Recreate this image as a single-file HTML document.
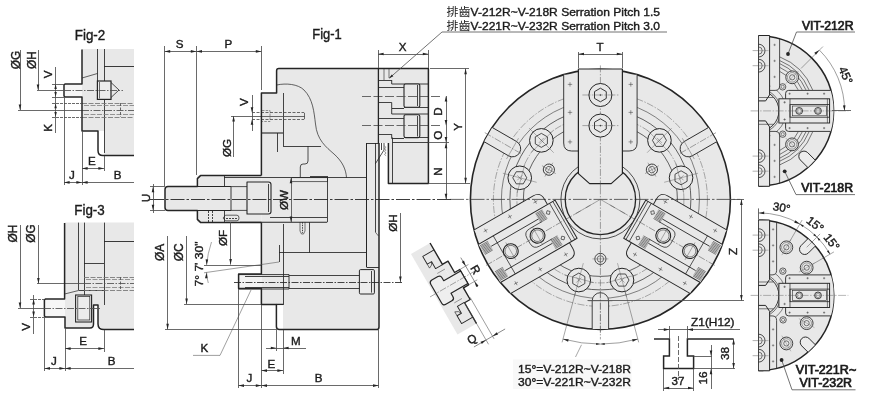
<!DOCTYPE html>
<html><head><meta charset="utf-8"><title>Chuck dimensions</title>
<style>
html,body{margin:0;padding:0;background:#fff}
svg{display:block;filter:grayscale(1)}
text{font-family:"Liberation Sans", "Noto Sans CJK TC", sans-serif;fill:#1f1a19;stroke:#1f1a19;stroke-width:0.4px}
</style></head>
<body>
<svg width="870" height="402" viewBox="0 0 870 402">
<rect width="870" height="402" fill="#fff"/>
<g id="fig2">
<path d="M82,49 H134 V155.6 H104 V131 H82 Z" fill="#e8e8e8" stroke="none"/>
<rect x="64" y="84" width="18" height="13" fill="#f6f6f6" stroke="none" stroke-width="0"/>
<line x1="97.5" y1="49" x2="97.5" y2="81" stroke="#2a2422" stroke-width="0.85"/>
<line x1="104.5" y1="49" x2="104.5" y2="81" stroke="#2a2422" stroke-width="0.85"/>
<line x1="104.5" y1="99.4" x2="104.5" y2="153" stroke="#2a2422" stroke-width="0.85"/>
<line x1="104" y1="66.5" x2="134" y2="66.5" stroke="#2a2422" stroke-width="0.9"/>
<line x1="82" y1="78" x2="97.4" y2="73.5" stroke="#2a2422" stroke-width="0.7"/>
<line x1="82" y1="103.5" x2="134" y2="103.5" stroke="#7d716c" stroke-width="0.85" stroke-dasharray="5 1.5"/>
<line x1="82" y1="117.5" x2="134" y2="117.5" stroke="#7d716c" stroke-width="0.85" stroke-dasharray="5 1.5"/>
<line x1="84" y1="105.5" x2="134" y2="105.5" stroke="#8d827d" stroke-width="0.85" stroke-dasharray="5 1.5"/>
<line x1="84" y1="114.5" x2="134" y2="114.5" stroke="#8d827d" stroke-width="0.85" stroke-dasharray="5 1.5"/>
<line x1="120.5" y1="103" x2="120.5" y2="117" stroke="#5a4d48" stroke-width="0.85" stroke-dasharray="3 1.5"/>
<line x1="18" y1="110.5" x2="82" y2="110.5" stroke="#5a4d48" stroke-width="0.85"/>
<line x1="82" y1="110.5" x2="134" y2="110.5" stroke="#5a4d48" stroke-width="0.85" stroke-dasharray="7 1.5 1.5 1.5"/>
<rect x="97.4" y="81" width="13.6" height="18.4" fill="#ececec" stroke="#2a2422" stroke-width="1.2"/>
<path d="M111,82.5 L119,90 L111,97.5" fill="none" stroke="#2a2422" stroke-width="0.8" stroke-linejoin="round"/>
<line x1="99.5" y1="82" x2="99.5" y2="98.5" stroke="#5a4d48" stroke-width="0.85"/>
<path d="M82,49.5 V84 H65 L64,85 V96 L65,97 H82 V131 H98 V150.5 Q98,155.6 103,155.6 H134" fill="none" stroke="#2a2422" stroke-width="1.5" stroke-linejoin="round"/>
<line x1="37" y1="90.5" x2="64" y2="90.5" stroke="#5a4d48" stroke-width="0.85"/>
<line x1="64" y1="90.5" x2="123" y2="90.5" stroke="#5a4d48" stroke-width="0.85" stroke-dasharray="7 1.5 1.5 1.5"/>
<line x1="20.5" y1="50" x2="20.5" y2="110" stroke="#5a4d48" stroke-width="0.85"/>
<polygon points="20,110 18.7,104.4 21.3,104.4" fill="#2a2422"/>
<line x1="38.5" y1="50" x2="38.5" y2="90" stroke="#5a4d48" stroke-width="0.85"/>
<polygon points="38,90 36.7,84.4 39.3,84.4" fill="#2a2422"/>
<text x="20.29" y="60" font-size="11.92" text-anchor="middle" transform="rotate(-90 20.29 60)">&#216;G</text>
<text x="35.79" y="60" font-size="11.92" text-anchor="middle" transform="rotate(-90 35.79 60)">&#216;H</text>
<line x1="55.5" y1="67" x2="55.5" y2="100" stroke="#5a4d48" stroke-width="0.85"/>
<polygon points="55.6,84 56.8,89 54.4,89" fill="#2a2422"/>
<polygon points="55.6,97 54.4,92 56.8,92" fill="#2a2422"/>
<line x1="52" y1="84.5" x2="64" y2="84.5" stroke="#5a4d48" stroke-width="0.85"/>
<line x1="52" y1="97.5" x2="64" y2="97.5" stroke="#5a4d48" stroke-width="0.85"/>
<text x="51.68" y="74.5" font-size="11.6" text-anchor="middle" transform="rotate(-90 51.68 74.5)">V</text>
<line x1="55.5" y1="100" x2="55.5" y2="133" stroke="#5a4d48" stroke-width="0.85"/>
<polygon points="55.6,103.2 56.8,108.2 54.4,108.2" fill="#2a2422"/>
<polygon points="55.6,117 54.4,112 56.8,112" fill="#2a2422"/>
<line x1="52" y1="103.5" x2="82" y2="103.5" stroke="#5a4d48" stroke-width="0.85" stroke-dasharray="3 1"/>
<line x1="52" y1="117.5" x2="82" y2="117.5" stroke="#5a4d48" stroke-width="0.85" stroke-dasharray="3 1"/>
<text x="51.68" y="128" font-size="11.6" text-anchor="middle" transform="rotate(-90 51.68 128)">K</text>
<line x1="64.5" y1="97" x2="64.5" y2="185" stroke="#5a4d48" stroke-width="0.85"/>
<line x1="82.5" y1="131" x2="82.5" y2="185" stroke="#5a4d48" stroke-width="0.85"/>
<line x1="104.5" y1="156" x2="104.5" y2="171" stroke="#5a4d48" stroke-width="0.85"/>
<line x1="82" y1="168.5" x2="104" y2="168.5" stroke="#5a4d48" stroke-width="0.85"/>
<polygon points="82,168.4 87.6,167.1 87.6,169.7" fill="#2a2422"/>
<polygon points="104,168.4 98.4,169.7 98.4,167.1" fill="#2a2422"/>
<text x="91.8" y="165" font-size="11.6" text-anchor="middle">E</text>
<line x1="64" y1="182.5" x2="134" y2="182.5" stroke="#5a4d48" stroke-width="0.85"/>
<polygon points="64,182.4 69.6,181.1 69.6,183.7" fill="#2a2422"/>
<polygon points="82,182.4 76.4,183.7 76.4,181.1" fill="#2a2422"/>
<polygon points="82,182.4 87.6,181.1 87.6,183.7" fill="#2a2422"/>
<text x="71.9" y="179" font-size="11.6" text-anchor="middle">J</text>
<text x="117.6" y="179" font-size="11.6" text-anchor="middle">B</text>
<text x="90" y="39.6" font-size="14.2" text-anchor="middle" textLength="30.5" lengthAdjust="spacingAndGlyphs">Fig-2</text>
</g>
<g id="fig3">
<path d="M64.6,222.6 H134 V329.6 H104 L98,326 V305 H93.5 V325 L91,328 H65 V317 H64.6 Z" fill="#e8e8e8" stroke="none"/>
<rect x="44.4" y="299" width="20.6" height="18" fill="#f6f6f6" stroke="none" stroke-width="0"/>
<line x1="78.5" y1="222.6" x2="78.5" y2="290" stroke="#2a2422" stroke-width="0.85"/>
<line x1="84.5" y1="222.6" x2="84.5" y2="295" stroke="#2a2422" stroke-width="0.85"/>
<line x1="104.5" y1="222.6" x2="104.5" y2="305" stroke="#2a2422" stroke-width="0.85"/>
<line x1="104" y1="241.5" x2="134" y2="241.5" stroke="#2a2422" stroke-width="0.9"/>
<line x1="84" y1="263.5" x2="104" y2="263.5" stroke="#2a2422" stroke-width="0.85"/>
<line x1="64.6" y1="294" x2="78.6" y2="290.5" stroke="#2a2422" stroke-width="0.7"/>
<line x1="78.6" y1="290.5" x2="104" y2="290.5" stroke="#2a2422" stroke-width="0.85"/>
<line x1="84" y1="277.5" x2="134" y2="277.5" stroke="#7d716c" stroke-width="0.85" stroke-dasharray="5 1.5"/>
<line x1="84" y1="290.5" x2="134" y2="290.5" stroke="#7d716c" stroke-width="0.85" stroke-dasharray="5 1.5"/>
<line x1="86" y1="279.5" x2="134" y2="279.5" stroke="#8d827d" stroke-width="0.85" stroke-dasharray="5 1.5"/>
<line x1="86" y1="287.5" x2="134" y2="287.5" stroke="#8d827d" stroke-width="0.85" stroke-dasharray="5 1.5"/>
<line x1="120.5" y1="277" x2="120.5" y2="290" stroke="#5a4d48" stroke-width="0.85" stroke-dasharray="3 1.5"/>
<line x1="37" y1="283.5" x2="84" y2="283.5" stroke="#5a4d48" stroke-width="0.85"/>
<line x1="84" y1="283.5" x2="134" y2="283.5" stroke="#5a4d48" stroke-width="0.85" stroke-dasharray="7 1.5 1.5 1.5"/>
<rect x="75.6" y="295" width="16" height="27" fill="#ececec" stroke="#2a2422" stroke-width="1.1"/>
<rect x="77.8" y="296.5" width="12" height="23.5" fill="none" stroke="#2a2422" stroke-width="0.7"/>
<path d="M64.6,223 V299 H45.4 L44.4,300 V316 L45.4,317 H65 V328 H90 Q93.5,328 93.5,324 V305 H98 V324 Q98,329.6 104,329.6 H134" fill="none" stroke="#2a2422" stroke-width="1.5" stroke-linejoin="round"/>
<line x1="18" y1="308.5" x2="44" y2="308.5" stroke="#5a4d48" stroke-width="0.85"/>
<line x1="44" y1="308.5" x2="100" y2="308.5" stroke="#5a4d48" stroke-width="0.85" stroke-dasharray="7 1.5 1.5 1.5"/>
<line x1="20.5" y1="225" x2="20.5" y2="308" stroke="#5a4d48" stroke-width="0.85"/>
<polygon points="20,308 18.7,302.4 21.3,302.4" fill="#2a2422"/>
<line x1="38.5" y1="225" x2="38.5" y2="283.6" stroke="#5a4d48" stroke-width="0.85"/>
<polygon points="38.4,283.6 37.1,278 39.7,278" fill="#2a2422"/>
<text x="17.09" y="233.5" font-size="11.92" text-anchor="middle" transform="rotate(-90 17.09 233.5)">&#216;H</text>
<text x="35.29" y="233.5" font-size="11.92" text-anchor="middle" transform="rotate(-90 35.29 233.5)">&#216;G</text>
<line x1="33.5" y1="295" x2="33.5" y2="334" stroke="#5a4d48" stroke-width="0.85"/>
<polygon points="33.6,299 34.9,304.6 32.3,304.6" fill="#2a2422"/>
<polygon points="33.6,317 32.3,311.4 34.9,311.4" fill="#2a2422"/>
<line x1="30" y1="299.5" x2="44" y2="299.5" stroke="#5a4d48" stroke-width="0.85" stroke-dasharray="3 1"/>
<line x1="30" y1="317.5" x2="44" y2="317.5" stroke="#5a4d48" stroke-width="0.85" stroke-dasharray="3 1"/>
<text x="29.68" y="327" font-size="11.6" text-anchor="middle" transform="rotate(-90 29.68 327)">V</text>
<line x1="44.5" y1="317" x2="44.5" y2="371" stroke="#5a4d48" stroke-width="0.85"/>
<line x1="65.5" y1="328" x2="65.5" y2="371" stroke="#5a4d48" stroke-width="0.85"/>
<line x1="104.5" y1="330" x2="104.5" y2="352" stroke="#5a4d48" stroke-width="0.85"/>
<line x1="65" y1="348.5" x2="104" y2="348.5" stroke="#5a4d48" stroke-width="0.85"/>
<polygon points="65,348.6 70.6,347.3 70.6,349.9" fill="#2a2422"/>
<polygon points="104,348.6 98.4,349.9 98.4,347.3" fill="#2a2422"/>
<text x="83" y="345" font-size="11.6" text-anchor="middle">E</text>
<line x1="44.4" y1="368.5" x2="134" y2="368.5" stroke="#5a4d48" stroke-width="0.85"/>
<polygon points="44.4,368.4 50,367.1 50,369.7" fill="#2a2422"/>
<polygon points="65,368.4 59.4,369.7 59.4,367.1" fill="#2a2422"/>
<polygon points="65,368.4 70.6,367.1 70.6,369.7" fill="#2a2422"/>
<text x="54" y="365" font-size="11.6" text-anchor="middle">J</text>
<text x="111.6" y="365" font-size="11.6" text-anchor="middle">B</text>
<text x="89.5" y="215.2" font-size="14.2" text-anchor="middle" textLength="30.5" lengthAdjust="spacingAndGlyphs">Fig-3</text>
</g>
<g id="fig1">
<path d="M261.4,93 H276.6 V68.6 H428.4 V183.4 H388 V143 H379 V329.6 H283 V304.4 H261.4 Z" fill="#e8e8e8" stroke="none"/>
<path d="M197.4,175.6 H261.4 V222.4 H197.4 Z" fill="#e8e8e8" stroke="none"/>
<path d="M165,186.6 H231 V210.4 H165 Z" fill="#e8e8e8" stroke="none"/>
<path d="M238.6,274 H262 V288.6 H238.6 Z" fill="#f2f2f2" stroke="none"/>
<line x1="283.5" y1="93" x2="283.5" y2="146" stroke="#2a2422" stroke-width="0.85"/>
<line x1="261.4" y1="133" x2="283" y2="133" stroke="#2a2422" stroke-width="1.1"/>
<line x1="277.5" y1="133" x2="277.5" y2="152" stroke="#2a2422" stroke-width="0.85"/>
<line x1="283" y1="146.5" x2="321" y2="146.5" stroke="#2a2422" stroke-width="0.85"/>
<path d="M308,146 V161 Q308,164 305,164 H303 Q300.3,164 300.3,167 V177" fill="none" stroke="#2a2422" stroke-width="0.8" stroke-linejoin="round"/>
<path d="M276.6,85 C286,83 298,84 304,90 C313,99 314,112 315.5,124 C317,140 326,147 334,154 C343,162 346,170 346.5,177.7" fill="none" stroke="#2a2422" stroke-width="0.7" stroke-linejoin="round"/>
<line x1="224" y1="177.5" x2="366.5" y2="177.5" stroke="#2a2422" stroke-width="0.85"/>
<rect x="291.6" y="177.7" width="36" height="4" fill="none" stroke="#2a2422" stroke-width="0.7"/>
<line x1="240" y1="222.2" x2="327" y2="222.2" stroke="#2a2422" stroke-width="1.1"/>
<line x1="270" y1="217.5" x2="327" y2="217.5" stroke="#2a2422" stroke-width="0.85"/>
<line x1="327.5" y1="176" x2="327.5" y2="222.2" stroke="#2a2422" stroke-width="0.85"/>
<line x1="310" y1="176.5" x2="327" y2="176.5" stroke="#2a2422" stroke-width="0.85"/>
<path d="M231,186.6 V210.4" fill="none" stroke="#2a2422" stroke-width="0.9" stroke-linejoin="round"/>
<path d="M231,186.6 H247 M231,210.4 H247" fill="none" stroke="#2a2422" stroke-width="0.8" stroke-linejoin="round"/>
<path d="M247,182 H268.5 Q271,182 271,184.5 V211.5 Q271,214 268.5,214 H247 Z" fill="#e8e8e8" stroke="#2a2422" stroke-width="1.1" stroke-linejoin="round"/>
<line x1="268.5" y1="184" x2="268.5" y2="212" stroke="#2a2422" stroke-width="0.85"/>
<line x1="224.5" y1="175.6" x2="224.5" y2="186.6" stroke="#2a2422" stroke-width="0.85"/>
<line x1="224.5" y1="210.4" x2="224.5" y2="222.4" stroke="#2a2422" stroke-width="0.85"/>
<line x1="208.5" y1="211" x2="208.5" y2="222" stroke="#2a2422" stroke-width="0.85" stroke-dasharray="2 1"/>
<line x1="212.5" y1="211" x2="212.5" y2="222" stroke="#2a2422" stroke-width="0.85" stroke-dasharray="2 1"/>
<path d="M223,218 L225.5,215.2 H237 Q239,215.2 239,218 Q239,220.8 237,220.8 H225.5 Z" fill="none" stroke="#2a2422" stroke-width="0.7" stroke-linejoin="round"/>
<line x1="226" y1="218.5" x2="237" y2="218.5" stroke="#2a2422" stroke-width="0.85" stroke-dasharray="2 1"/>
<line x1="252" y1="112.5" x2="304" y2="112.5" stroke="#5a4d48" stroke-width="0.85" stroke-dasharray="3 1.5"/>
<line x1="252" y1="119.5" x2="304" y2="119.5" stroke="#5a4d48" stroke-width="0.85" stroke-dasharray="3 1.5"/>
<line x1="304.5" y1="112.8" x2="304.5" y2="119.2" stroke="#5a4d48" stroke-width="0.85"/>
<path d="M262,110.5 H270 V121.5 H262" fill="none" stroke="#5a4d48" stroke-width="0.6" stroke-linejoin="round" stroke-dasharray="2.5 1.2"/>
<line x1="231" y1="116.5" x2="305" y2="116.5" stroke="#5a4d48" stroke-width="0.85"/>
<line x1="283.5" y1="224" x2="283.5" y2="305" stroke="#2a2422" stroke-width="0.85"/>
<line x1="283" y1="252.5" x2="366.5" y2="252.5" stroke="#2a2422" stroke-width="0.85"/>
<line x1="309.5" y1="222.2" x2="309.5" y2="252.6" stroke="#2a2422" stroke-width="0.85"/>
<path d="M300,222.2 V231 L301.5,234 H303.5 L305,231 V222.2" fill="none" stroke="#2a2422" stroke-width="0.6" stroke-linejoin="round"/>
<line x1="302.5" y1="222.2" x2="302.5" y2="233" stroke="#2a2422" stroke-width="0.85" stroke-dasharray="1.5 1"/>
<path d="M238.6,274.6 H289 V289 H238.6" fill="none" stroke="#2a2422" stroke-width="0.9" stroke-linejoin="round"/>
<line x1="245" y1="276.5" x2="289" y2="276.5" stroke="#2a2422" stroke-width="0.85"/>
<line x1="245" y1="287.5" x2="289" y2="287.5" stroke="#2a2422" stroke-width="0.85"/>
<line x1="289" y1="275.5" x2="359.4" y2="275.5" stroke="#2a2422" stroke-width="0.85"/>
<line x1="289" y1="288.5" x2="359.4" y2="288.5" stroke="#2a2422" stroke-width="0.85"/>
<rect x="359.4" y="269.6" width="15" height="24.4" fill="#ececec" stroke="#2a2422" stroke-width="1" rx="1.2"/>
<line x1="371.5" y1="271" x2="371.5" y2="292.6" stroke="#2a2422" stroke-width="0.85"/>
<line x1="234" y1="282.5" x2="403" y2="282.5" stroke="#2a2422" stroke-width="0.85" stroke-dasharray="7 1.5 1.5 1.5"/>
<line x1="366.5" y1="143" x2="366.5" y2="267" stroke="#2a2422" stroke-width="1"/>
<line x1="375.5" y1="143" x2="375.5" y2="232" stroke="#2a2422" stroke-width="0.85"/>
<line x1="375.2" y1="232" x2="378.5" y2="236" stroke="#2a2422" stroke-width="0.6"/>
<line x1="366.5" y1="143.5" x2="379" y2="143.5" stroke="#2a2422" stroke-width="0.9"/>
<line x1="366.5" y1="267.5" x2="379" y2="267.5" stroke="#2a2422" stroke-width="0.9"/>
<path d="M375.2,164 L384,150 V143" fill="none" stroke="#2a2422" stroke-width="0.8" stroke-linejoin="round"/>
<path d="M384.5,146 l1.6,1.4 l-1.6,1.4 l1.6,1.4 l-1.6,1.4 l1.6,1.4 l-1.6,1.4 l1.6,1.4" fill="none" stroke="#2a2422" stroke-width="0.45" stroke-linejoin="round"/>
<line x1="381.5" y1="143" x2="381.5" y2="150" stroke="#2a2422" stroke-width="0.85"/>
<line x1="392.5" y1="137.5" x2="392.5" y2="183" stroke="#2a2422" stroke-width="0.85"/>
<line x1="392.4" y1="142.5" x2="428.4" y2="142.5" stroke="#2a2422" stroke-width="0.85"/>
<line x1="379" y1="80.5" x2="391.7" y2="80.5" stroke="#2a2422" stroke-width="0.85"/>
<line x1="379" y1="87.5" x2="404" y2="87.5" stroke="#2a2422" stroke-width="0.85"/>
<line x1="379" y1="102.5" x2="391.7" y2="102.5" stroke="#2a2422" stroke-width="0.85"/>
<line x1="379" y1="118.5" x2="404" y2="118.5" stroke="#2a2422" stroke-width="0.85"/>
<line x1="379" y1="134.5" x2="391.7" y2="134.5" stroke="#2a2422" stroke-width="0.85"/>
<path d="M384,69 V80 M389,69 V78" fill="none" stroke="#2a2422" stroke-width="0.6" stroke-linejoin="round"/>
<path d="M391.7,80 V84 H428 M391.7,102.5 V108.5 H404 M391.7,108.5 V114 H428 M391.7,134.2 V138.5 H404" fill="none" stroke="#2a2422" stroke-width="0.9" stroke-linejoin="round"/>
<line x1="404" y1="107.5" x2="428" y2="107.5" stroke="#2a2422" stroke-width="0.85"/>
<line x1="404" y1="137.5" x2="428" y2="137.5" stroke="#2a2422" stroke-width="0.85"/>
<rect x="404" y="84" width="15.8" height="23.2" fill="#e8e8e8" stroke="#2a2422" stroke-width="1.1" rx="1.5"/>
<rect x="404" y="114.8" width="15.8" height="22.8" fill="#e8e8e8" stroke="#2a2422" stroke-width="1.1" rx="1.5"/>
<line x1="417.5" y1="85" x2="417.5" y2="106" stroke="#2a2422" stroke-width="0.85"/>
<line x1="417.5" y1="116" x2="417.5" y2="136.5" stroke="#2a2422" stroke-width="0.85"/>
<line x1="362" y1="96.5" x2="440" y2="96.5" stroke="#5a4d48" stroke-width="0.85" stroke-dasharray="9 2.5"/>
<line x1="362" y1="125.5" x2="440" y2="125.5" stroke="#5a4d48" stroke-width="0.85" stroke-dasharray="9 2.5"/>
<path d="M261.4,175.6 V93 H276.6 V70.8 Q276.6,68.6 278.8,68.6 H428.4 V183.4 H388.4 V143" fill="none" stroke="#2a2422" stroke-width="1.5" stroke-linejoin="round"/>
<line x1="378.4" y1="68.6" x2="378.4" y2="143" stroke="#2a2422" stroke-width="1.3"/>
<path d="M379,143 V327 Q379,329.6 376.4,329.6 H279.4 Q276.4,329.6 276.4,326.6 V304.4 H261.4 V288.6 H238.6 V274 H261.4 V222.4" fill="none" stroke="#2a2422" stroke-width="1.5" stroke-linejoin="round"/>
<line x1="276.4" y1="304.4" x2="283" y2="304.4" stroke="#2a2422" stroke-width="1.3"/>
<path d="M261.4,175.6 H200.5 L197.4,178.6 V186.6 H168 Q165,186.6 165,189.6 V207.4 Q165,210.4 168,210.4 H197.4 V219.4 L200.5,222.4 H261.4" fill="none" stroke="#2a2422" stroke-width="1.5" stroke-linejoin="round"/>
<line x1="197.4" y1="186.5" x2="231" y2="186.5" stroke="#2a2422" stroke-width="1"/>
<line x1="197.4" y1="210.5" x2="231" y2="210.5" stroke="#2a2422" stroke-width="1"/>
<line x1="150" y1="199.5" x2="452" y2="199.5" stroke="#2a2422" stroke-width="0.9" stroke-dasharray="14 2 2.5 2"/>
<line x1="164.5" y1="46" x2="164.5" y2="186" stroke="#5a4d48" stroke-width="0.85"/>
<line x1="196.5" y1="46" x2="196.5" y2="175" stroke="#5a4d48" stroke-width="0.85"/>
<line x1="261.5" y1="46" x2="261.5" y2="90" stroke="#5a4d48" stroke-width="0.85"/>
<line x1="164.6" y1="51.5" x2="196.4" y2="51.5" stroke="#5a4d48" stroke-width="0.85"/>
<polygon points="164.6,51.4 170.2,50.1 170.2,52.7" fill="#2a2422"/>
<polygon points="196.4,51.4 190.8,52.7 190.8,50.1" fill="#2a2422"/>
<line x1="196.4" y1="51.5" x2="261.4" y2="51.5" stroke="#5a4d48" stroke-width="0.85"/>
<polygon points="196.4,51.4 202,50.1 202,52.7" fill="#2a2422"/>
<polygon points="261.4,51.4 255.8,52.7 255.8,50.1" fill="#2a2422"/>
<text x="179.6" y="47.5" font-size="11.6" text-anchor="middle">S</text>
<text x="228.4" y="47.5" font-size="11.6" text-anchor="middle">P</text>
<line x1="378.5" y1="50" x2="378.5" y2="68" stroke="#5a4d48" stroke-width="0.85"/>
<line x1="428.5" y1="50" x2="428.5" y2="68" stroke="#5a4d48" stroke-width="0.85"/>
<line x1="378" y1="54.5" x2="428.4" y2="54.5" stroke="#5a4d48" stroke-width="0.85"/>
<polygon points="378,54 383.6,52.7 383.6,55.3" fill="#2a2422"/>
<polygon points="428.4,54 422.8,55.3 422.8,52.7" fill="#2a2422"/>
<text x="402.6" y="50.5" font-size="11.6" text-anchor="middle">X</text>
<line x1="252.5" y1="95" x2="252.5" y2="131" stroke="#5a4d48" stroke-width="0.85"/>
<polygon points="252,112.8 250.7,107.2 253.3,107.2" fill="#2a2422"/>
<polygon points="252,119.2 253.3,124.8 250.7,124.8" fill="#2a2422"/>
<text x="247.58" y="102" font-size="11.6" text-anchor="middle" transform="rotate(-90 247.58 102)">V</text>
<line x1="233.5" y1="116" x2="233.5" y2="157" stroke="#5a4d48" stroke-width="0.85"/>
<polygon points="233.6,116 234.9,121.6 232.3,121.6" fill="#2a2422"/>
<text x="231.18" y="148" font-size="11.6" text-anchor="middle" transform="rotate(-90 231.18 148)">&#216;G</text>
<line x1="153.5" y1="184" x2="153.5" y2="213" stroke="#5a4d48" stroke-width="0.85"/>
<polygon points="153,186.6 154.3,192.2 151.7,192.2" fill="#2a2422"/>
<polygon points="153,210.4 151.7,204.8 154.3,204.8" fill="#2a2422"/>
<line x1="150" y1="186.5" x2="165" y2="186.5" stroke="#5a4d48" stroke-width="0.85"/>
<line x1="150" y1="210.5" x2="165" y2="210.5" stroke="#5a4d48" stroke-width="0.85"/>
<text x="149.58" y="198" font-size="11.6" text-anchor="middle" transform="rotate(-90 149.58 198)">U</text>
<line x1="291.5" y1="177.7" x2="291.5" y2="222" stroke="#5a4d48" stroke-width="0.85"/>
<polygon points="291,177.7 292.3,183.3 289.7,183.3" fill="#2a2422"/>
<polygon points="291,222.2 289.7,216.6 292.3,216.6" fill="#2a2422"/>
<text x="287.98" y="200" font-size="11.6" text-anchor="middle" transform="rotate(-90 287.98 200)">&#216;W</text>
<line x1="167.5" y1="236" x2="167.5" y2="329.4" stroke="#5a4d48" stroke-width="0.85"/>
<polygon points="167.6,329.4 166.3,323.8 168.9,323.8" fill="#2a2422"/>
<line x1="165" y1="329.5" x2="278" y2="329.5" stroke="#5a4d48" stroke-width="0.85"/>
<text x="164.09" y="252.4" font-size="11.92" text-anchor="middle" transform="rotate(-90 164.09 252.4)">&#216;A</text>
<line x1="186.5" y1="236" x2="186.5" y2="304" stroke="#5a4d48" stroke-width="0.85"/>
<polygon points="186.6,304 185.3,298.4 187.9,298.4" fill="#2a2422"/>
<line x1="184" y1="304.5" x2="261" y2="304.5" stroke="#5a4d48" stroke-width="0.85"/>
<text x="182.89" y="252.4" font-size="11.92" text-anchor="middle" transform="rotate(-90 182.89 252.4)">&#216;C</text>
<text x="202.8" y="264" font-size="10.55" text-anchor="middle" transform="rotate(-90 202.8 264)" textLength="45" lengthAdjust="spacingAndGlyphs">7&#176; 7' 30"</text>
<line x1="230.5" y1="222" x2="230.5" y2="264.6" stroke="#5a4d48" stroke-width="0.85"/>
<polygon points="230.6,264.6 229.3,259 231.9,259" fill="#2a2422"/>
<text x="227.18" y="238" font-size="11.6" text-anchor="middle" transform="rotate(-90 227.18 238)">&#216;F</text>
<line x1="204" y1="265.5" x2="261" y2="265.5" stroke="#5a4d48" stroke-width="0.85"/>
<line x1="204" y1="272.8" x2="279" y2="262" stroke="#5a4d48" stroke-width="0.55"/>
<line x1="279.5" y1="245" x2="279.5" y2="262" stroke="#2a2422" stroke-width="0.85"/>
<line x1="279" y1="252.5" x2="283" y2="252.5" stroke="#2a2422" stroke-width="0.85"/>
<path d="M211.5,242 Q207.5,254 206.6,265" fill="none" stroke="#5a4d48" stroke-width="0.5" stroke-linejoin="round"/>
<polygon points="206.6,265 205.59,259.34 208.19,259.48" fill="#2a2422"/>
<path d="M206.6,272.4 Q206.8,278 208.3,283" fill="none" stroke="#5a4d48" stroke-width="0.5" stroke-linejoin="round"/>
<polygon points="206.5,272.6 207.6,278.24 205.01,278.15" fill="#2a2422"/>
<line x1="400.5" y1="213" x2="400.5" y2="282" stroke="#5a4d48" stroke-width="0.85"/>
<polygon points="400.4,282 399.1,276.4 401.7,276.4" fill="#2a2422"/>
<text x="396.78" y="223" font-size="11.6" text-anchor="middle" transform="rotate(-90 396.78 223)">&#216;H</text>
<path d="M251,290 L220,355.4 H193" fill="none" stroke="#5a4d48" stroke-width="0.55" stroke-linejoin="round"/>
<text x="204.4" y="351.5" font-size="11.6" text-anchor="middle">K</text>
<line x1="238.5" y1="289" x2="238.5" y2="388" stroke="#5a4d48" stroke-width="0.85"/>
<line x1="261.5" y1="305" x2="261.5" y2="388" stroke="#5a4d48" stroke-width="0.85"/>
<line x1="276.5" y1="330" x2="276.5" y2="351" stroke="#5a4d48" stroke-width="0.85"/>
<line x1="283.5" y1="330" x2="283.5" y2="374" stroke="#5a4d48" stroke-width="0.85"/>
<line x1="378.5" y1="330" x2="378.5" y2="388" stroke="#5a4d48" stroke-width="0.85"/>
<line x1="266" y1="348.5" x2="306" y2="348.5" stroke="#5a4d48" stroke-width="0.85"/>
<polygon points="276.4,348 270.8,349.3 270.8,346.7" fill="#2a2422"/>
<polygon points="283,348 288.6,346.7 288.6,349.3" fill="#2a2422"/>
<text x="295.8" y="345" font-size="11.6" text-anchor="middle">M</text>
<line x1="261.4" y1="370.5" x2="283" y2="370.5" stroke="#5a4d48" stroke-width="0.85"/>
<polygon points="261.4,370.6 267,369.3 267,371.9" fill="#2a2422"/>
<polygon points="283,370.6 277.4,371.9 277.4,369.3" fill="#2a2422"/>
<text x="271.4" y="367.5" font-size="11.6" text-anchor="middle">E</text>
<line x1="238.4" y1="385.5" x2="378.6" y2="385.5" stroke="#5a4d48" stroke-width="0.85"/>
<polygon points="238.4,385.6 244,384.3 244,386.9" fill="#2a2422"/>
<polygon points="261.4,385.6 255.8,386.9 255.8,384.3" fill="#2a2422"/>
<polygon points="261.4,385.6 267,384.3 267,386.9" fill="#2a2422"/>
<polygon points="378.6,385.6 373,386.9 373,384.3" fill="#2a2422"/>
<text x="249.4" y="382" font-size="11.6" text-anchor="middle">J</text>
<text x="318.6" y="382" font-size="11.6" text-anchor="middle">B</text>
<line x1="446.5" y1="96" x2="446.5" y2="199.3" stroke="#5a4d48" stroke-width="0.85"/>
<polygon points="446,96 447.3,101.6 444.7,101.6" fill="#2a2422"/>
<polygon points="446,125.6 444.7,120 447.3,120" fill="#2a2422"/>
<polygon points="446,142.6 444.7,137 447.3,137" fill="#2a2422"/>
<polygon points="446,142.6 447.3,148.2 444.7,148.2" fill="#2a2422"/>
<polygon points="446,199.3 444.7,193.7 447.3,193.7" fill="#2a2422"/>
<line x1="428.4" y1="142.5" x2="449" y2="142.5" stroke="#5a4d48" stroke-width="0.85"/>
<text x="441.78" y="111.6" font-size="11.6" text-anchor="middle" transform="rotate(-90 441.78 111.6)">D</text>
<text x="441.78" y="135.2" font-size="11.6" text-anchor="middle" transform="rotate(-90 441.78 135.2)">O</text>
<text x="441.78" y="171.6" font-size="11.6" text-anchor="middle" transform="rotate(-90 441.78 171.6)">N</text>
<line x1="430" y1="68.5" x2="469" y2="68.5" stroke="#5a4d48" stroke-width="0.85"/>
<line x1="428.4" y1="183.5" x2="470" y2="183.5" stroke="#5a4d48" stroke-width="0.85"/>
<line x1="465.5" y1="68.6" x2="465.5" y2="183.4" stroke="#5a4d48" stroke-width="0.85"/>
<polygon points="465.6,68.6 466.9,74.2 464.3,74.2" fill="#2a2422"/>
<polygon points="465.6,183.4 464.3,177.8 466.9,177.8" fill="#2a2422"/>
<text x="462.18" y="127" font-size="11.6" text-anchor="middle" transform="rotate(-90 462.18 127)">Y</text>
<text x="327" y="39" font-size="14.2" text-anchor="middle" textLength="29.5" lengthAdjust="spacingAndGlyphs">Fig-1</text>
<text x="446.6" y="16.2" font-size="11.82" text-anchor="start" textLength="213.4" lengthAdjust="spacingAndGlyphs"><tspan stroke="none">&#25490;&#40786;</tspan>V-212R~V-218R Serration Pitch 1.5</text>
<text x="446.6" y="30.2" font-size="11.82" text-anchor="start" textLength="213.4" lengthAdjust="spacingAndGlyphs"><tspan stroke="none">&#25490;&#40786;</tspan>V-221R~V-232R Serration Pitch 3.0</text>
<path d="M667,32 H442 L389.5,78" fill="none" stroke="#5a4d48" stroke-width="0.8" stroke-linejoin="round"/>
<polygon points="388.8,78.6 391.79,74.41 393.36,76.23" fill="#2a2422"/>
</g>
<g id="inset" transform="translate(411,254) rotate(60)">
<path d="M0,0 H93 V-22 H0 Z" fill="#e8e8e8" stroke="none"/>
<path d="M8,-22 V-9 H17 V-14 H25 V-22" fill="none" stroke="#2a2422" stroke-width="0.9" stroke-linejoin="round"/>
<path d="M17,-14 Q20.5,-13 21.5,-9 M17,-9 H21.5" fill="none" stroke="#2a2422" stroke-width="0.6" stroke-linejoin="round"/>
<path d="M68.5,-22 V-14 H76.5 V-9 H85.5 V-22" fill="none" stroke="#2a2422" stroke-width="0.9" stroke-linejoin="round"/>
<path d="M76.5,-14 Q73,-13 72,-9 M76.5,-9 H72" fill="none" stroke="#2a2422" stroke-width="0.6" stroke-linejoin="round"/>
<line x1="30" y1="-22" x2="30" y2="-13" stroke="#5a4d48" stroke-width="0.5"/>
<line x1="64" y1="-22" x2="64" y2="-13" stroke="#5a4d48" stroke-width="0.5"/>
<path d="M0,-22 H24.7 V-28.5 H37.8 V-34.5 H55.5 V-28.5 H69 V-22 H93" fill="#e8e8e8" stroke="#2a2422" stroke-width="1.4" stroke-linejoin="round"/>
<path d="M36,-2 Q33,-2 33,-5 V-12 Q33,-15 36,-15 H39.5 V-34.5 H54 V-15 H58 Q61,-15 61,-12 V-5 Q61,-2 58,-2 Z" fill="#eeeeee" stroke="#2a2422" stroke-width="1.2" stroke-linejoin="round"/>
<line x1="46.7" y1="5" x2="46.7" y2="-47" stroke="#5a4d48" stroke-width="0.45" stroke-dasharray="7 1.5 1.5 1.5"/>
<line x1="37.8" y1="-35" x2="37.8" y2="-44.5" stroke="#5a4d48" stroke-width="0.5"/>
<line x1="55.5" y1="-35" x2="55.5" y2="-44.5" stroke="#5a4d48" stroke-width="0.5"/>
<line x1="28" y1="-41.3" x2="62" y2="-41.3" stroke="#5a4d48" stroke-width="0.6"/>
<polygon points="37.8,-41.3 32.2,-40 32.2,-42.6" fill="#2a2422"/>
<polygon points="55.5,-41.3 61.1,-42.6 61.1,-40" fill="#2a2422"/>
<line x1="70" y1="-22" x2="117" y2="-22" stroke="#5a4d48" stroke-width="0.5"/>
<line x1="67" y1="-29.5" x2="115" y2="-29.5" stroke="#5a4d48" stroke-width="0.5"/>
<line x1="112" y1="-8" x2="112" y2="-44" stroke="#5a4d48" stroke-width="0.6"/>
<polygon points="112,-22 113.3,-16.4 110.7,-16.4" fill="#2a2422"/>
<polygon points="112,-29.5 110.7,-35.1 113.3,-35.1" fill="#2a2422"/>
</g>
<text x="472.1" y="271.6" font-size="11.6" text-anchor="middle" transform="rotate(60 472.1 271.6)">R</text>
<text x="474" y="342.4" font-size="11.6" text-anchor="middle" transform="rotate(-30 474 342.4)">Q</text>
<g id="z1">
<path d="M654,339 H669.4 V356 H663.6 V368.6 H693.6 V356 H687.4 V339 H733.6" fill="none" stroke="#2a2422" stroke-width="1.5" stroke-linejoin="miter"/>
<line x1="678.5" y1="336" x2="678.5" y2="380" stroke="#5a4d48" stroke-width="0.85" stroke-dasharray="5 2"/>
<line x1="669.5" y1="326" x2="669.5" y2="339" stroke="#5a4d48" stroke-width="0.85"/>
<line x1="687.5" y1="326" x2="687.5" y2="339" stroke="#5a4d48" stroke-width="0.85"/>
<line x1="658" y1="329.5" x2="740" y2="329.5" stroke="#5a4d48" stroke-width="0.85"/>
<polygon points="669.4,329.6 663.8,330.9 663.8,328.3" fill="#2a2422"/>
<polygon points="687.4,329.6 693,328.3 693,330.9" fill="#2a2422"/>
<text x="712.8" y="326" font-size="11.6" text-anchor="middle" textLength="43.5" lengthAdjust="spacingAndGlyphs">Z1(H12)</text>
<line x1="663.5" y1="369" x2="663.5" y2="391" stroke="#5a4d48" stroke-width="0.85"/>
<line x1="693.5" y1="369" x2="693.5" y2="391" stroke="#5a4d48" stroke-width="0.85"/>
<line x1="663.6" y1="388.5" x2="693.6" y2="388.5" stroke="#5a4d48" stroke-width="0.85"/>
<polygon points="663.6,388 669.2,386.7 669.2,389.3" fill="#2a2422"/>
<polygon points="693.6,388 688,389.3 688,386.7" fill="#2a2422"/>
<text x="678" y="385" font-size="11.6" text-anchor="middle">37</text>
<line x1="693.6" y1="368.5" x2="735" y2="368.5" stroke="#5a4d48" stroke-width="0.85"/>
<line x1="733.5" y1="339" x2="733.5" y2="368.6" stroke="#5a4d48" stroke-width="0.85"/>
<polygon points="733.6,339 734.9,344.6 732.3,344.6" fill="#2a2422"/>
<polygon points="733.6,368.6 732.3,363 734.9,363" fill="#2a2422"/>
<text x="729.18" y="353.5" font-size="11.6" text-anchor="middle" transform="rotate(-90 729.18 353.5)">38</text>
<line x1="693.6" y1="356.5" x2="712" y2="356.5" stroke="#5a4d48" stroke-width="0.85"/>
<line x1="711.5" y1="345" x2="711.5" y2="389" stroke="#5a4d48" stroke-width="0.85"/>
<polygon points="711,356 709.7,350.4 712.3,350.4" fill="#2a2422"/>
<polygon points="711,368.6 712.3,374.2 709.7,374.2" fill="#2a2422"/>
<text x="707.18" y="378" font-size="11.6" text-anchor="middle" transform="rotate(-90 707.18 378)">16</text>
</g>
<g id="front" transform="translate(600.4,199.4)">
<circle cx="0" cy="0" r="130" fill="#e8e8e8" stroke="#2a2422" stroke-width="1.6"/>
<circle cx="0" cy="0" r="99" fill="none" stroke="#2a2422" stroke-width="0.55"/>
<circle cx="0" cy="0" r="107" fill="none" stroke="#5a4d48" stroke-width="0.45" stroke-dasharray="7 1.5 1.5 1.5"/>
<circle cx="0" cy="0" r="77" fill="none" stroke="#2a2422" stroke-width="0.7"/>
<circle cx="0" cy="0" r="90.5" fill="none" stroke="#2a2422" stroke-width="0.7"/>
<circle cx="0" cy="0" r="83.5" fill="none" stroke="#5a4d48" stroke-width="0.45" stroke-dasharray="7 1.5 1.5 1.5"/>
<circle cx="0" cy="0" r="39.5" fill="none" stroke="#2a2422" stroke-width="0.8"/>
<circle cx="0" cy="0" r="35.2" fill="#e8e8e8" stroke="#2a2422" stroke-width="1.3"/>
<g transform="rotate(60)">
<path d="M-8.2,-129.6 V-101.5 A8.2,8.2 0 0 0 8.2,-101.5 V-129.6" fill="#e8e8e8" stroke="#2a2422" stroke-width="0.85" stroke-linejoin="round"/>
<line x1="0" y1="-92" x2="0" y2="-134" stroke="#5a4d48" stroke-width="0.45" stroke-dasharray="7 1.5 1.5 1.5"/>
<line x1="-12" y1="-101.5" x2="12" y2="-101.5" stroke="#5a4d48" stroke-width="0.4"/>
<circle cx="0" cy="-59.5" r="5.6" fill="#e8e8e8" stroke="#2a2422" stroke-width="0.8"/>
<circle cx="0" cy="-59.5" r="3.2" fill="none" stroke="#2a2422" stroke-width="0.6"/>
<line x1="-8" y1="-59.5" x2="8" y2="-59.5" stroke="#5a4d48" stroke-width="0.4"/>
<line x1="0" y1="-67.5" x2="0" y2="-51.5" stroke="#5a4d48" stroke-width="0.4"/>
</g>
<circle cx="59.04" cy="-59.04" r="11.8" fill="#e8e8e8" stroke="#2a2422" stroke-width="1"/>
<polygon points="62.54,-52.98 55.54,-52.98 52.04,-59.04 55.54,-65.11 62.54,-65.11 66.04,-59.04" fill="none" stroke="#2a2422" stroke-width="0.8"/>
<line x1="56.54" y1="-61.54" x2="61.54" y2="-56.54" stroke="#2a2422" stroke-width="0.35"/>
<line x1="56.54" y1="-56.54" x2="61.54" y2="-61.54" stroke="#2a2422" stroke-width="0.35"/>
<line x1="46.67" y1="-46.67" x2="71.42" y2="-71.42" stroke="#5a4d48" stroke-width="0.4"/>
<line x1="47.29" y1="-68.81" x2="68.81" y2="-47.29" stroke="#5a4d48" stroke-width="0.4"/>
<circle cx="80.65" cy="-21.61" r="11.8" fill="#e8e8e8" stroke="#2a2422" stroke-width="1"/>
<polygon points="80.65,-14.61 74.59,-18.11 74.59,-25.11 80.65,-28.61 86.72,-25.11 86.72,-18.11" fill="none" stroke="#2a2422" stroke-width="0.8"/>
<line x1="78.15" y1="-24.11" x2="83.15" y2="-19.11" stroke="#2a2422" stroke-width="0.35"/>
<line x1="78.15" y1="-19.11" x2="83.15" y2="-24.11" stroke="#2a2422" stroke-width="0.35"/>
<line x1="63.75" y1="-17.08" x2="97.56" y2="-26.14" stroke="#5a4d48" stroke-width="0.4"/>
<line x1="75.37" y1="-35.95" x2="83.24" y2="-6.55" stroke="#5a4d48" stroke-width="0.4"/>
<g transform="rotate(180)">
<path d="M-8.2,-129.6 V-101.5 A8.2,8.2 0 0 0 8.2,-101.5 V-129.6" fill="#e8e8e8" stroke="#2a2422" stroke-width="0.85" stroke-linejoin="round"/>
<line x1="0" y1="-92" x2="0" y2="-134" stroke="#5a4d48" stroke-width="0.45" stroke-dasharray="7 1.5 1.5 1.5"/>
<line x1="-12" y1="-101.5" x2="12" y2="-101.5" stroke="#5a4d48" stroke-width="0.4"/>
<circle cx="0" cy="-59.5" r="5.6" fill="#e8e8e8" stroke="#2a2422" stroke-width="0.8"/>
<circle cx="0" cy="-59.5" r="3.2" fill="none" stroke="#2a2422" stroke-width="0.6"/>
<line x1="-8" y1="-59.5" x2="8" y2="-59.5" stroke="#5a4d48" stroke-width="0.4"/>
<line x1="0" y1="-67.5" x2="0" y2="-51.5" stroke="#5a4d48" stroke-width="0.4"/>
</g>
<circle cx="21.61" cy="80.65" r="11.8" fill="#e8e8e8" stroke="#2a2422" stroke-width="1"/>
<polygon points="14.61,80.65 18.11,74.59 25.11,74.59 28.61,80.65 25.11,86.72 18.11,86.72" fill="none" stroke="#2a2422" stroke-width="0.8"/>
<line x1="19.11" y1="78.15" x2="24.11" y2="83.15" stroke="#2a2422" stroke-width="0.35"/>
<line x1="19.11" y1="83.15" x2="24.11" y2="78.15" stroke="#2a2422" stroke-width="0.35"/>
<line x1="17.08" y1="63.75" x2="26.14" y2="97.56" stroke="#5a4d48" stroke-width="0.4"/>
<line x1="35.95" y1="75.37" x2="6.55" y2="83.24" stroke="#5a4d48" stroke-width="0.4"/>
<circle cx="-21.61" cy="80.65" r="11.8" fill="#e8e8e8" stroke="#2a2422" stroke-width="1"/>
<polygon points="-27.67,77.15 -21.61,73.65 -15.55,77.15 -15.55,84.15 -21.61,87.65 -27.67,84.15" fill="none" stroke="#2a2422" stroke-width="0.8"/>
<line x1="-24.11" y1="78.15" x2="-19.11" y2="83.15" stroke="#2a2422" stroke-width="0.35"/>
<line x1="-24.11" y1="83.15" x2="-19.11" y2="78.15" stroke="#2a2422" stroke-width="0.35"/>
<line x1="-17.08" y1="63.75" x2="-26.14" y2="97.56" stroke="#5a4d48" stroke-width="0.4"/>
<line x1="-6.55" y1="83.24" x2="-35.95" y2="75.37" stroke="#5a4d48" stroke-width="0.4"/>
<g transform="rotate(300)">
<path d="M-8.2,-129.6 V-101.5 A8.2,8.2 0 0 0 8.2,-101.5 V-129.6" fill="#e8e8e8" stroke="#2a2422" stroke-width="0.85" stroke-linejoin="round"/>
<line x1="0" y1="-92" x2="0" y2="-134" stroke="#5a4d48" stroke-width="0.45" stroke-dasharray="7 1.5 1.5 1.5"/>
<line x1="-12" y1="-101.5" x2="12" y2="-101.5" stroke="#5a4d48" stroke-width="0.4"/>
<circle cx="0" cy="-59.5" r="5.6" fill="#e8e8e8" stroke="#2a2422" stroke-width="0.8"/>
<circle cx="0" cy="-59.5" r="3.2" fill="none" stroke="#2a2422" stroke-width="0.6"/>
<line x1="-8" y1="-59.5" x2="8" y2="-59.5" stroke="#5a4d48" stroke-width="0.4"/>
<line x1="0" y1="-67.5" x2="0" y2="-51.5" stroke="#5a4d48" stroke-width="0.4"/>
</g>
<circle cx="-80.65" cy="-21.61" r="11.8" fill="#e8e8e8" stroke="#2a2422" stroke-width="1"/>
<polygon points="-77.15,-27.67 -73.65,-21.61 -77.15,-15.55 -84.15,-15.55 -87.65,-21.61 -84.15,-27.67" fill="none" stroke="#2a2422" stroke-width="0.8"/>
<line x1="-83.15" y1="-24.11" x2="-78.15" y2="-19.11" stroke="#2a2422" stroke-width="0.35"/>
<line x1="-83.15" y1="-19.11" x2="-78.15" y2="-24.11" stroke="#2a2422" stroke-width="0.35"/>
<line x1="-63.75" y1="-17.08" x2="-97.56" y2="-26.14" stroke="#5a4d48" stroke-width="0.4"/>
<line x1="-83.24" y1="-6.55" x2="-75.37" y2="-35.95" stroke="#5a4d48" stroke-width="0.4"/>
<circle cx="-59.04" cy="-59.04" r="11.8" fill="#e8e8e8" stroke="#2a2422" stroke-width="1"/>
<polygon points="-52.98,-62.54 -52.98,-55.54 -59.04,-52.04 -65.11,-55.54 -65.11,-62.54 -59.04,-66.04" fill="none" stroke="#2a2422" stroke-width="0.8"/>
<line x1="-61.54" y1="-61.54" x2="-56.54" y2="-56.54" stroke="#2a2422" stroke-width="0.35"/>
<line x1="-61.54" y1="-56.54" x2="-56.54" y2="-61.54" stroke="#2a2422" stroke-width="0.35"/>
<line x1="-46.67" y1="-46.67" x2="-71.42" y2="-71.42" stroke="#5a4d48" stroke-width="0.4"/>
<line x1="-68.81" y1="-47.29" x2="-47.29" y2="-68.81" stroke="#5a4d48" stroke-width="0.4"/>
<g transform="rotate(0)">
<path d="M-36.7,-124.6 V-56.4 Q-36.7,-48.4 -28.7,-48.4 H28.7 Q36.7,-48.4 36.7,-56.4 V-124.6 Z" fill="#e8e8e8" stroke="none"/>
<path d="M-36.7,-124.6 V-56.4 Q-36.7,-48.4 -28.7,-48.4 H-22" fill="none" stroke="#2a2422" stroke-width="0.9" stroke-linejoin="round"/>
<path d="M36.7,-124.6 V-56.4 Q36.7,-48.4 28.7,-48.4 H22" fill="none" stroke="#2a2422" stroke-width="0.9" stroke-linejoin="round"/>
<line x1="-32.6" y1="-115" x2="-28.2" y2="-115" stroke="#2a2422" stroke-width="0.45"/>
<line x1="-30.4" y1="-117.2" x2="-30.4" y2="-112.8" stroke="#2a2422" stroke-width="0.45"/>
<line x1="-32.6" y1="-87" x2="-28.2" y2="-87" stroke="#2a2422" stroke-width="0.45"/>
<line x1="-30.4" y1="-89.2" x2="-30.4" y2="-84.8" stroke="#2a2422" stroke-width="0.45"/>
<line x1="-32.6" y1="-57.5" x2="-28.2" y2="-57.5" stroke="#2a2422" stroke-width="0.45"/>
<line x1="-30.4" y1="-59.7" x2="-30.4" y2="-55.3" stroke="#2a2422" stroke-width="0.45"/>
<line x1="28.2" y1="-115" x2="32.6" y2="-115" stroke="#2a2422" stroke-width="0.45"/>
<line x1="30.4" y1="-117.2" x2="30.4" y2="-112.8" stroke="#2a2422" stroke-width="0.45"/>
<line x1="28.2" y1="-87" x2="32.6" y2="-87" stroke="#2a2422" stroke-width="0.45"/>
<line x1="30.4" y1="-89.2" x2="30.4" y2="-84.8" stroke="#2a2422" stroke-width="0.45"/>
<line x1="28.2" y1="-57.5" x2="32.6" y2="-57.5" stroke="#2a2422" stroke-width="0.45"/>
<line x1="30.4" y1="-59.7" x2="30.4" y2="-55.3" stroke="#2a2422" stroke-width="0.45"/>
<path d="M-22,-130.4 H22 V-25.8 L10.8,-15.8 H-10.8 L-22,-25.8 Z" fill="#e8e8e8" stroke="#2a2422" stroke-width="1.2" stroke-linejoin="round"/>
<line x1="0" y1="-134" x2="0" y2="-12" stroke="#5a4d48" stroke-width="0.5" stroke-dasharray="7 1.5 1.5 1.5"/>
<circle cx="0" cy="-104.4" r="11.5" fill="#e8e8e8" stroke="#2a2422" stroke-width="1"/>
<polygon points="5.89,-101 0,-97.6 -5.89,-101 -5.89,-107.8 -0,-111.2 5.89,-107.8" fill="none" stroke="#2a2422" stroke-width="0.9"/>
<circle cx="0" cy="-104.4" r="0.6" fill="#2a2422" stroke="#2a2422" stroke-width="0.3"/>
<line x1="-18" y1="-104.4" x2="18" y2="-104.4" stroke="#5a4d48" stroke-width="0.45" stroke-dasharray="8 1.5 1.5 1.5"/>
<circle cx="0" cy="-73.8" r="11.5" fill="#e8e8e8" stroke="#2a2422" stroke-width="1"/>
<polygon points="5.89,-70.4 0,-67 -5.89,-70.4 -5.89,-77.2 -0,-80.6 5.89,-77.2" fill="none" stroke="#2a2422" stroke-width="0.9"/>
<circle cx="0" cy="-73.8" r="0.6" fill="#2a2422" stroke="#2a2422" stroke-width="0.3"/>
<line x1="-18" y1="-73.8" x2="18" y2="-73.8" stroke="#5a4d48" stroke-width="0.45" stroke-dasharray="8 1.5 1.5 1.5"/>
</g>
<g transform="rotate(120)">
<path d="M-36.7,-124.6 V-56.4 Q-36.7,-48.4 -28.7,-48.4 H28.7 Q36.7,-48.4 36.7,-56.4 V-124.6 Z" fill="#e8e8e8" stroke="none"/>
<path d="M-36.7,-124.6 V-56.4 Q-36.7,-48.4 -28.7,-48.4 H-22" fill="none" stroke="#2a2422" stroke-width="0.9" stroke-linejoin="round"/>
<path d="M36.7,-124.6 V-56.4 Q36.7,-48.4 28.7,-48.4 H22" fill="none" stroke="#2a2422" stroke-width="0.9" stroke-linejoin="round"/>
<line x1="-32.6" y1="-115" x2="-28.2" y2="-115" stroke="#2a2422" stroke-width="0.45"/>
<line x1="-30.4" y1="-117.2" x2="-30.4" y2="-112.8" stroke="#2a2422" stroke-width="0.45"/>
<line x1="-32.6" y1="-87" x2="-28.2" y2="-87" stroke="#2a2422" stroke-width="0.45"/>
<line x1="-30.4" y1="-89.2" x2="-30.4" y2="-84.8" stroke="#2a2422" stroke-width="0.45"/>
<line x1="-32.6" y1="-57.5" x2="-28.2" y2="-57.5" stroke="#2a2422" stroke-width="0.45"/>
<line x1="-30.4" y1="-59.7" x2="-30.4" y2="-55.3" stroke="#2a2422" stroke-width="0.45"/>
<line x1="28.2" y1="-115" x2="32.6" y2="-115" stroke="#2a2422" stroke-width="0.45"/>
<line x1="30.4" y1="-117.2" x2="30.4" y2="-112.8" stroke="#2a2422" stroke-width="0.45"/>
<line x1="28.2" y1="-87" x2="32.6" y2="-87" stroke="#2a2422" stroke-width="0.45"/>
<line x1="30.4" y1="-89.2" x2="30.4" y2="-84.8" stroke="#2a2422" stroke-width="0.45"/>
<line x1="28.2" y1="-57.5" x2="32.6" y2="-57.5" stroke="#2a2422" stroke-width="0.45"/>
<line x1="30.4" y1="-59.7" x2="30.4" y2="-55.3" stroke="#2a2422" stroke-width="0.45"/>
<path d="M-22,-128.1 V-39.6 H22 V-128.1" fill="#e8e8e8" stroke="#2a2422" stroke-width="1" stroke-linejoin="round"/>
<line x1="-22" y1="-42.2" x2="22" y2="-42.2" stroke="#2a2422" stroke-width="0.7"/>
<path d="M-14,-118 V-63.5 M14,-118 V-63.5" fill="none" stroke="#2a2422" stroke-width="0.8" stroke-linejoin="round"/>
<line x1="-22" y1="-111" x2="22" y2="-111" stroke="#2a2422" stroke-width="0.7"/>
<line x1="-22" y1="-46" x2="22" y2="-46" stroke="#2a2422" stroke-width="0.7"/>
<line x1="-10" y1="-55.5" x2="-10" y2="-63.5" stroke="#2a2422" stroke-width="0.5"/>
<line x1="-11.25" y1="-55.5" x2="-11.25" y2="-63.5" stroke="#2a2422" stroke-width="0.5"/>
<line x1="-12.5" y1="-55.5" x2="-12.5" y2="-63.5" stroke="#2a2422" stroke-width="0.5"/>
<line x1="-13.75" y1="-55.5" x2="-13.75" y2="-63.5" stroke="#2a2422" stroke-width="0.5"/>
<line x1="-15" y1="-55.5" x2="-15" y2="-63.5" stroke="#2a2422" stroke-width="0.5"/>
<line x1="-16.25" y1="-55.5" x2="-16.25" y2="-63.5" stroke="#2a2422" stroke-width="0.5"/>
<line x1="-17.5" y1="-55.5" x2="-17.5" y2="-63.5" stroke="#2a2422" stroke-width="0.5"/>
<line x1="-18.75" y1="-55.5" x2="-18.75" y2="-63.5" stroke="#2a2422" stroke-width="0.5"/>
<line x1="-20" y1="-55.5" x2="-20" y2="-63.5" stroke="#2a2422" stroke-width="0.5"/>
<line x1="-10" y1="-118.5" x2="-10" y2="-127.5" stroke="#2a2422" stroke-width="0.5"/>
<line x1="-11.25" y1="-118.5" x2="-11.25" y2="-127.5" stroke="#2a2422" stroke-width="0.5"/>
<line x1="-12.5" y1="-118.5" x2="-12.5" y2="-127.5" stroke="#2a2422" stroke-width="0.5"/>
<line x1="-13.75" y1="-118.5" x2="-13.75" y2="-127.5" stroke="#2a2422" stroke-width="0.5"/>
<line x1="-15" y1="-118.5" x2="-15" y2="-127.5" stroke="#2a2422" stroke-width="0.5"/>
<line x1="-16.25" y1="-118.5" x2="-16.25" y2="-127.5" stroke="#2a2422" stroke-width="0.5"/>
<line x1="-17.5" y1="-118.5" x2="-17.5" y2="-127.5" stroke="#2a2422" stroke-width="0.5"/>
<line x1="-18.75" y1="-118.5" x2="-18.75" y2="-127.5" stroke="#2a2422" stroke-width="0.5"/>
<line x1="-20" y1="-118.5" x2="-20" y2="-127.5" stroke="#2a2422" stroke-width="0.5"/>
<path d="M-14.7,-54 l2.2,2.2 l-2.2,2.2 l-2.2,-2.2 Z" fill="none" stroke="#2a2422" stroke-width="0.6" stroke-linejoin="round"/>
<line x1="10" y1="-55.5" x2="10" y2="-63.5" stroke="#2a2422" stroke-width="0.5"/>
<line x1="11.25" y1="-55.5" x2="11.25" y2="-63.5" stroke="#2a2422" stroke-width="0.5"/>
<line x1="12.5" y1="-55.5" x2="12.5" y2="-63.5" stroke="#2a2422" stroke-width="0.5"/>
<line x1="13.75" y1="-55.5" x2="13.75" y2="-63.5" stroke="#2a2422" stroke-width="0.5"/>
<line x1="15" y1="-55.5" x2="15" y2="-63.5" stroke="#2a2422" stroke-width="0.5"/>
<line x1="16.25" y1="-55.5" x2="16.25" y2="-63.5" stroke="#2a2422" stroke-width="0.5"/>
<line x1="17.5" y1="-55.5" x2="17.5" y2="-63.5" stroke="#2a2422" stroke-width="0.5"/>
<line x1="18.75" y1="-55.5" x2="18.75" y2="-63.5" stroke="#2a2422" stroke-width="0.5"/>
<line x1="20" y1="-55.5" x2="20" y2="-63.5" stroke="#2a2422" stroke-width="0.5"/>
<line x1="10" y1="-118.5" x2="10" y2="-127.5" stroke="#2a2422" stroke-width="0.5"/>
<line x1="11.25" y1="-118.5" x2="11.25" y2="-127.5" stroke="#2a2422" stroke-width="0.5"/>
<line x1="12.5" y1="-118.5" x2="12.5" y2="-127.5" stroke="#2a2422" stroke-width="0.5"/>
<line x1="13.75" y1="-118.5" x2="13.75" y2="-127.5" stroke="#2a2422" stroke-width="0.5"/>
<line x1="15" y1="-118.5" x2="15" y2="-127.5" stroke="#2a2422" stroke-width="0.5"/>
<line x1="16.25" y1="-118.5" x2="16.25" y2="-127.5" stroke="#2a2422" stroke-width="0.5"/>
<line x1="17.5" y1="-118.5" x2="17.5" y2="-127.5" stroke="#2a2422" stroke-width="0.5"/>
<line x1="18.75" y1="-118.5" x2="18.75" y2="-127.5" stroke="#2a2422" stroke-width="0.5"/>
<line x1="20" y1="-118.5" x2="20" y2="-127.5" stroke="#2a2422" stroke-width="0.5"/>
<path d="M14.7,-54 l2.2,2.2 l-2.2,2.2 l-2.2,-2.2 Z" fill="none" stroke="#2a2422" stroke-width="0.6" stroke-linejoin="round"/>
<path d="M-10,-62 V-76 Q-10,-83 -3,-83 H3 Q10,-83 10,-76 V-62" fill="none" stroke="#2a2422" stroke-width="0.7" stroke-linejoin="round"/>
<line x1="0" y1="-132" x2="0" y2="-6" stroke="#5a4d48" stroke-width="0.5" stroke-dasharray="7 1.5 1.5 1.5"/>
<circle cx="0" cy="-72.6" r="7.4" fill="#e8e8e8" stroke="#2a2422" stroke-width="1.1"/>
<circle cx="0" cy="-72.6" r="5.8" fill="none" stroke="#2a2422" stroke-width="0.5"/>
<line x1="-10" y1="-72.6" x2="10" y2="-72.6" stroke="#5a4d48" stroke-width="0.4"/>
<circle cx="0" cy="-103.5" r="7.4" fill="#e8e8e8" stroke="#2a2422" stroke-width="1.1"/>
<circle cx="0" cy="-103.5" r="5.8" fill="none" stroke="#2a2422" stroke-width="0.5"/>
<line x1="-10" y1="-103.5" x2="10" y2="-103.5" stroke="#5a4d48" stroke-width="0.4"/>
</g>
<g transform="rotate(240)">
<path d="M-36.7,-124.6 V-56.4 Q-36.7,-48.4 -28.7,-48.4 H28.7 Q36.7,-48.4 36.7,-56.4 V-124.6 Z" fill="#e8e8e8" stroke="none"/>
<path d="M-36.7,-124.6 V-56.4 Q-36.7,-48.4 -28.7,-48.4 H-22" fill="none" stroke="#2a2422" stroke-width="0.9" stroke-linejoin="round"/>
<path d="M36.7,-124.6 V-56.4 Q36.7,-48.4 28.7,-48.4 H22" fill="none" stroke="#2a2422" stroke-width="0.9" stroke-linejoin="round"/>
<line x1="-32.6" y1="-115" x2="-28.2" y2="-115" stroke="#2a2422" stroke-width="0.45"/>
<line x1="-30.4" y1="-117.2" x2="-30.4" y2="-112.8" stroke="#2a2422" stroke-width="0.45"/>
<line x1="-32.6" y1="-87" x2="-28.2" y2="-87" stroke="#2a2422" stroke-width="0.45"/>
<line x1="-30.4" y1="-89.2" x2="-30.4" y2="-84.8" stroke="#2a2422" stroke-width="0.45"/>
<line x1="-32.6" y1="-57.5" x2="-28.2" y2="-57.5" stroke="#2a2422" stroke-width="0.45"/>
<line x1="-30.4" y1="-59.7" x2="-30.4" y2="-55.3" stroke="#2a2422" stroke-width="0.45"/>
<line x1="28.2" y1="-115" x2="32.6" y2="-115" stroke="#2a2422" stroke-width="0.45"/>
<line x1="30.4" y1="-117.2" x2="30.4" y2="-112.8" stroke="#2a2422" stroke-width="0.45"/>
<line x1="28.2" y1="-87" x2="32.6" y2="-87" stroke="#2a2422" stroke-width="0.45"/>
<line x1="30.4" y1="-89.2" x2="30.4" y2="-84.8" stroke="#2a2422" stroke-width="0.45"/>
<line x1="28.2" y1="-57.5" x2="32.6" y2="-57.5" stroke="#2a2422" stroke-width="0.45"/>
<line x1="30.4" y1="-59.7" x2="30.4" y2="-55.3" stroke="#2a2422" stroke-width="0.45"/>
<path d="M-22,-128.1 V-39.6 H22 V-128.1" fill="#e8e8e8" stroke="#2a2422" stroke-width="1" stroke-linejoin="round"/>
<line x1="-22" y1="-42.2" x2="22" y2="-42.2" stroke="#2a2422" stroke-width="0.7"/>
<path d="M-14,-118 V-63.5 M14,-118 V-63.5" fill="none" stroke="#2a2422" stroke-width="0.8" stroke-linejoin="round"/>
<line x1="-22" y1="-111" x2="22" y2="-111" stroke="#2a2422" stroke-width="0.7"/>
<line x1="-22" y1="-46" x2="22" y2="-46" stroke="#2a2422" stroke-width="0.7"/>
<line x1="-10" y1="-55.5" x2="-10" y2="-63.5" stroke="#2a2422" stroke-width="0.5"/>
<line x1="-11.25" y1="-55.5" x2="-11.25" y2="-63.5" stroke="#2a2422" stroke-width="0.5"/>
<line x1="-12.5" y1="-55.5" x2="-12.5" y2="-63.5" stroke="#2a2422" stroke-width="0.5"/>
<line x1="-13.75" y1="-55.5" x2="-13.75" y2="-63.5" stroke="#2a2422" stroke-width="0.5"/>
<line x1="-15" y1="-55.5" x2="-15" y2="-63.5" stroke="#2a2422" stroke-width="0.5"/>
<line x1="-16.25" y1="-55.5" x2="-16.25" y2="-63.5" stroke="#2a2422" stroke-width="0.5"/>
<line x1="-17.5" y1="-55.5" x2="-17.5" y2="-63.5" stroke="#2a2422" stroke-width="0.5"/>
<line x1="-18.75" y1="-55.5" x2="-18.75" y2="-63.5" stroke="#2a2422" stroke-width="0.5"/>
<line x1="-20" y1="-55.5" x2="-20" y2="-63.5" stroke="#2a2422" stroke-width="0.5"/>
<line x1="-10" y1="-118.5" x2="-10" y2="-127.5" stroke="#2a2422" stroke-width="0.5"/>
<line x1="-11.25" y1="-118.5" x2="-11.25" y2="-127.5" stroke="#2a2422" stroke-width="0.5"/>
<line x1="-12.5" y1="-118.5" x2="-12.5" y2="-127.5" stroke="#2a2422" stroke-width="0.5"/>
<line x1="-13.75" y1="-118.5" x2="-13.75" y2="-127.5" stroke="#2a2422" stroke-width="0.5"/>
<line x1="-15" y1="-118.5" x2="-15" y2="-127.5" stroke="#2a2422" stroke-width="0.5"/>
<line x1="-16.25" y1="-118.5" x2="-16.25" y2="-127.5" stroke="#2a2422" stroke-width="0.5"/>
<line x1="-17.5" y1="-118.5" x2="-17.5" y2="-127.5" stroke="#2a2422" stroke-width="0.5"/>
<line x1="-18.75" y1="-118.5" x2="-18.75" y2="-127.5" stroke="#2a2422" stroke-width="0.5"/>
<line x1="-20" y1="-118.5" x2="-20" y2="-127.5" stroke="#2a2422" stroke-width="0.5"/>
<path d="M-14.7,-54 l2.2,2.2 l-2.2,2.2 l-2.2,-2.2 Z" fill="none" stroke="#2a2422" stroke-width="0.6" stroke-linejoin="round"/>
<line x1="10" y1="-55.5" x2="10" y2="-63.5" stroke="#2a2422" stroke-width="0.5"/>
<line x1="11.25" y1="-55.5" x2="11.25" y2="-63.5" stroke="#2a2422" stroke-width="0.5"/>
<line x1="12.5" y1="-55.5" x2="12.5" y2="-63.5" stroke="#2a2422" stroke-width="0.5"/>
<line x1="13.75" y1="-55.5" x2="13.75" y2="-63.5" stroke="#2a2422" stroke-width="0.5"/>
<line x1="15" y1="-55.5" x2="15" y2="-63.5" stroke="#2a2422" stroke-width="0.5"/>
<line x1="16.25" y1="-55.5" x2="16.25" y2="-63.5" stroke="#2a2422" stroke-width="0.5"/>
<line x1="17.5" y1="-55.5" x2="17.5" y2="-63.5" stroke="#2a2422" stroke-width="0.5"/>
<line x1="18.75" y1="-55.5" x2="18.75" y2="-63.5" stroke="#2a2422" stroke-width="0.5"/>
<line x1="20" y1="-55.5" x2="20" y2="-63.5" stroke="#2a2422" stroke-width="0.5"/>
<line x1="10" y1="-118.5" x2="10" y2="-127.5" stroke="#2a2422" stroke-width="0.5"/>
<line x1="11.25" y1="-118.5" x2="11.25" y2="-127.5" stroke="#2a2422" stroke-width="0.5"/>
<line x1="12.5" y1="-118.5" x2="12.5" y2="-127.5" stroke="#2a2422" stroke-width="0.5"/>
<line x1="13.75" y1="-118.5" x2="13.75" y2="-127.5" stroke="#2a2422" stroke-width="0.5"/>
<line x1="15" y1="-118.5" x2="15" y2="-127.5" stroke="#2a2422" stroke-width="0.5"/>
<line x1="16.25" y1="-118.5" x2="16.25" y2="-127.5" stroke="#2a2422" stroke-width="0.5"/>
<line x1="17.5" y1="-118.5" x2="17.5" y2="-127.5" stroke="#2a2422" stroke-width="0.5"/>
<line x1="18.75" y1="-118.5" x2="18.75" y2="-127.5" stroke="#2a2422" stroke-width="0.5"/>
<line x1="20" y1="-118.5" x2="20" y2="-127.5" stroke="#2a2422" stroke-width="0.5"/>
<path d="M14.7,-54 l2.2,2.2 l-2.2,2.2 l-2.2,-2.2 Z" fill="none" stroke="#2a2422" stroke-width="0.6" stroke-linejoin="round"/>
<path d="M-10,-62 V-76 Q-10,-83 -3,-83 H3 Q10,-83 10,-76 V-62" fill="none" stroke="#2a2422" stroke-width="0.7" stroke-linejoin="round"/>
<line x1="0" y1="-132" x2="0" y2="-6" stroke="#5a4d48" stroke-width="0.5" stroke-dasharray="7 1.5 1.5 1.5"/>
<circle cx="0" cy="-72.6" r="7.4" fill="#e8e8e8" stroke="#2a2422" stroke-width="1.1"/>
<circle cx="0" cy="-72.6" r="5.8" fill="none" stroke="#2a2422" stroke-width="0.5"/>
<line x1="-10" y1="-72.6" x2="10" y2="-72.6" stroke="#5a4d48" stroke-width="0.4"/>
<circle cx="0" cy="-103.5" r="7.4" fill="#e8e8e8" stroke="#2a2422" stroke-width="1.1"/>
<circle cx="0" cy="-103.5" r="5.8" fill="none" stroke="#2a2422" stroke-width="0.5"/>
<line x1="-10" y1="-103.5" x2="10" y2="-103.5" stroke="#5a4d48" stroke-width="0.4"/>
</g>
<line x1="-150.4" y1="0" x2="140" y2="0" stroke="#2a2422" stroke-width="0.7" stroke-dasharray="14 2 2.5 2"/>
<line x1="0" y1="-12" x2="0" y2="140" stroke="#5a4d48" stroke-width="0.5" stroke-dasharray="7 1.5 1.5 1.5"/>
<line x1="0" y1="0" x2="25.98" y2="15" stroke="#5a4d48" stroke-width="0.45" stroke-dasharray="7 1.5 1.5 1.5"/>
<line x1="0" y1="0" x2="-25.98" y2="15" stroke="#5a4d48" stroke-width="0.45" stroke-dasharray="7 1.5 1.5 1.5"/>
<line x1="24.85" y1="92.73" x2="38.31" y2="142.96" stroke="#5a4d48" stroke-width="0.5"/>
<line x1="-24.85" y1="92.73" x2="-38.31" y2="142.96" stroke="#5a4d48" stroke-width="0.5"/>
<path d="M-37.43,139.67 A144.6,144.6 0 0 0 37.43,139.67" fill="none" stroke="#5a4d48" stroke-width="0.55" stroke-linejoin="round"/>
<polygon points="-37.43,139.67 -31.68,139.87 -32.35,142.38" fill="#2a2422"/>
<polygon points="37.43,139.67 32.35,142.38 31.68,139.87" fill="#2a2422"/>
<polygon points="-0.3,144.6 -4.3,145.6 -4.3,143.6" fill="#2a2422"/>
<polygon points="0.3,144.6 4.3,143.6 4.3,145.6" fill="#2a2422"/>
</g>
<line x1="581.5" y1="344.8" x2="575.5" y2="357" stroke="#5a4d48" stroke-width="0.5"/>
<rect x="513" y="359.5" width="118.5" height="29.5" fill="#f8f8f8" stroke="none" stroke-width="0"/>
<text x="518" y="373" font-size="11.82" text-anchor="start" textLength="113" lengthAdjust="spacingAndGlyphs">15&#176;=V-212R~V-218R</text>
<text x="518" y="386" font-size="11.82" text-anchor="start" textLength="113" lengthAdjust="spacingAndGlyphs">30&#176;=V-221R~V-232R</text>
<line x1="578.5" y1="52" x2="578.5" y2="68" stroke="#5a4d48" stroke-width="0.85"/>
<line x1="622.5" y1="52" x2="622.5" y2="68" stroke="#5a4d48" stroke-width="0.85"/>
<line x1="578.4" y1="54.5" x2="622.4" y2="54.5" stroke="#5a4d48" stroke-width="0.85"/>
<polygon points="578.4,54 584,52.7 584,55.3" fill="#2a2422"/>
<polygon points="622.4,54 616.8,55.3 616.8,52.7" fill="#2a2422"/>
<text x="600" y="50.5" font-size="11.6" text-anchor="middle">T</text>
<line x1="730" y1="199.5" x2="744" y2="199.5" stroke="#5a4d48" stroke-width="0.85"/>
<line x1="587.5" y1="300.5" x2="744" y2="300.5" stroke="#5a4d48" stroke-width="0.85"/>
<line x1="741.5" y1="199.4" x2="741.5" y2="300.6" stroke="#5a4d48" stroke-width="0.85"/>
<polygon points="741.4,199.4 742.7,205 740.1,205" fill="#2a2422"/>
<polygon points="741.4,300.6 740.1,295 742.7,295" fill="#2a2422"/>
<text x="737.38" y="251.4" font-size="11.6" text-anchor="middle" transform="rotate(-90 737.38 251.4)">Z</text>
<defs><clipPath id="cpA"><rect x="758.6" y="30" width="90" height="165"/></clipPath><clipPath id="cpB"><rect x="758.6" y="214" width="90" height="165"/></clipPath><clipPath id="ccA"><circle cx="758.6" cy="110.9" r="75"/></clipPath><clipPath id="ccB"><circle cx="758.6" cy="295.4" r="75.2"/></clipPath></defs>
<g clip-path="url(#cpA)">
<g transform="translate(758.6,110.9)">
<circle cx="0" cy="0" r="75" fill="#e8e8e8" stroke="#2a2422" stroke-width="1.5"/>
<circle cx="0" cy="0" r="27.5" fill="none" stroke="#2a2422" stroke-width="0.55"/>
<circle cx="0" cy="0" r="22" fill="none" stroke="#2a2422" stroke-width="0.6"/>
<circle cx="0" cy="0" r="20.3" fill="#e8e8e8" stroke="#2a2422" stroke-width="0.9"/>
</g></g>
<g clip-path="url(#cpA)">
<path d="M779.6,71.33 A44.8,44.8 0 0 1 798.17,89.9" fill="none" stroke="#2a2422" stroke-width="0.6" stroke-linejoin="round"/>
<path d="M779.6,67.29 A48.4,48.4 0 0 1 802.21,89.9" fill="none" stroke="#2a2422" stroke-width="0.6" stroke-linejoin="round"/>
<path d="M779.6,63.55 A51.8,51.8 0 0 1 805.95,89.9" fill="none" stroke="#2a2422" stroke-width="0.6" stroke-linejoin="round"/>
<path d="M779.6,60.5 A54.6,54.6 0 0 1 809,89.9" fill="none" stroke="#2a2422" stroke-width="0.6" stroke-linejoin="round"/>
<path d="M779.6,56.84 A58,58 0 0 1 812.66,89.9" fill="none" stroke="#2a2422" stroke-width="0.6" stroke-linejoin="round"/>
</g>
<g clip-path="url(#cpA)">
<path d="M798.17,131.9 A44.8,44.8 0 0 1 779.6,150.47" fill="none" stroke="#2a2422" stroke-width="0.6" stroke-linejoin="round"/>
<path d="M802.21,131.9 A48.4,48.4 0 0 1 779.6,154.51" fill="none" stroke="#2a2422" stroke-width="0.6" stroke-linejoin="round"/>
<path d="M805.95,131.9 A51.8,51.8 0 0 1 779.6,158.25" fill="none" stroke="#2a2422" stroke-width="0.6" stroke-linejoin="round"/>
<path d="M809,131.9 A54.6,54.6 0 0 1 779.6,161.3" fill="none" stroke="#2a2422" stroke-width="0.6" stroke-linejoin="round"/>
<path d="M812.66,131.9 A58,58 0 0 1 779.6,164.96" fill="none" stroke="#2a2422" stroke-width="0.6" stroke-linejoin="round"/>
</g>
<circle cx="792.19" cy="77.31" r="6.4" fill="#e8e8e8" stroke="#2a2422" stroke-width="0.85"/>
<circle cx="792.19" cy="77.31" r="4.8" fill="none" stroke="#2a2422" stroke-width="0.4"/>
<circle cx="792.19" cy="77.31" r="2.6" fill="none" stroke="#2a2422" stroke-width="0.6"/>
<line x1="785.82" y1="83.68" x2="798.55" y2="70.95" stroke="#5a4d48" stroke-width="0.35"/>
<circle cx="782.64" cy="86.86" r="3.2" fill="#e8e8e8" stroke="#2a2422" stroke-width="0.7"/>
<circle cx="782.64" cy="86.86" r="1.6" fill="none" stroke="#2a2422" stroke-width="0.5"/>
<circle cx="792.05" cy="144.35" r="6.4" fill="#e8e8e8" stroke="#2a2422" stroke-width="0.85"/>
<circle cx="792.05" cy="144.35" r="4.8" fill="none" stroke="#2a2422" stroke-width="0.4"/>
<circle cx="792.05" cy="144.35" r="2.6" fill="none" stroke="#2a2422" stroke-width="0.6"/>
<line x1="785.68" y1="137.98" x2="798.41" y2="150.71" stroke="#5a4d48" stroke-width="0.35"/>
<circle cx="782.7" cy="134.17" r="3.2" fill="#e8e8e8" stroke="#2a2422" stroke-width="0.7"/>
<circle cx="782.7" cy="134.17" r="1.6" fill="none" stroke="#2a2422" stroke-width="0.5"/>
<g transform="translate(758.6,110.9) rotate(135)">
<path d="M-5.2,-74.7 V-64.2 A5.2,5.2 0 0 0 5.2,-64.2 V-74.7" fill="#ececec" stroke="#2a2422" stroke-width="0.9" stroke-linejoin="round"/>
</g>
<g clip-path="url(#cpA)">
<g transform="translate(758.6,110.9)">
<g transform="scale(1,-1)">
<path d="M21,-73 V-25 Q21,-20.5 16.5,-20.5 H11 M-21,-71.9 V-25" fill="#e8e8e8" stroke="#2a2422" stroke-width="0.8" stroke-linejoin="round"/>
<path d="M-11,-75.4 H11 V-16 L7,-10 H-7 Z" fill="#e8e8e8" stroke="#2a2422" stroke-width="1" stroke-linejoin="round"/>
<circle cx="0" cy="-60.3" r="6.4" fill="#e8e8e8" stroke="#2a2422" stroke-width="0.8"/>
<circle cx="0" cy="-60.3" r="3.6" fill="none" stroke="#2a2422" stroke-width="0.6"/>
<line x1="-7" y1="-60.3" x2="10" y2="-60.3" stroke="#5a4d48" stroke-width="0.35"/>
<circle cx="0" cy="-45.2" r="6.4" fill="#e8e8e8" stroke="#2a2422" stroke-width="0.8"/>
<circle cx="0" cy="-45.2" r="3.6" fill="none" stroke="#2a2422" stroke-width="0.6"/>
<line x1="-7" y1="-45.2" x2="10" y2="-45.2" stroke="#5a4d48" stroke-width="0.35"/>
<line x1="16" y1="-67.2" x2="16" y2="-64.8" stroke="#2a2422" stroke-width="0.4"/>
<line x1="14.8" y1="-66" x2="17.2" y2="-66" stroke="#2a2422" stroke-width="0.4"/>
<line x1="16" y1="-51.2" x2="16" y2="-48.8" stroke="#2a2422" stroke-width="0.4"/>
<line x1="14.8" y1="-50" x2="17.2" y2="-50" stroke="#2a2422" stroke-width="0.4"/>
<line x1="16" y1="-35.2" x2="16" y2="-32.8" stroke="#2a2422" stroke-width="0.4"/>
<line x1="14.8" y1="-34" x2="17.2" y2="-34" stroke="#2a2422" stroke-width="0.4"/>
</g>
<g transform="scale(1,1)">
<path d="M21,-73 V-25 Q21,-20.5 16.5,-20.5 H11 M-21,-71.9 V-25" fill="#e8e8e8" stroke="#2a2422" stroke-width="0.8" stroke-linejoin="round"/>
<path d="M-11,-75.4 H11 V-16 L7,-10 H-7 Z" fill="#e8e8e8" stroke="#2a2422" stroke-width="1" stroke-linejoin="round"/>
<circle cx="0" cy="-60.3" r="6.4" fill="#e8e8e8" stroke="#2a2422" stroke-width="0.8"/>
<circle cx="0" cy="-60.3" r="3.6" fill="none" stroke="#2a2422" stroke-width="0.6"/>
<line x1="-7" y1="-60.3" x2="10" y2="-60.3" stroke="#5a4d48" stroke-width="0.35"/>
<circle cx="0" cy="-45.2" r="6.4" fill="#e8e8e8" stroke="#2a2422" stroke-width="0.8"/>
<circle cx="0" cy="-45.2" r="3.6" fill="none" stroke="#2a2422" stroke-width="0.6"/>
<line x1="-7" y1="-45.2" x2="10" y2="-45.2" stroke="#5a4d48" stroke-width="0.35"/>
<line x1="16" y1="-67.2" x2="16" y2="-64.8" stroke="#2a2422" stroke-width="0.4"/>
<line x1="14.8" y1="-66" x2="17.2" y2="-66" stroke="#2a2422" stroke-width="0.4"/>
<line x1="16" y1="-51.2" x2="16" y2="-48.8" stroke="#2a2422" stroke-width="0.4"/>
<line x1="14.8" y1="-50" x2="17.2" y2="-50" stroke="#2a2422" stroke-width="0.4"/>
<line x1="16" y1="-35.2" x2="16" y2="-32.8" stroke="#2a2422" stroke-width="0.4"/>
<line x1="14.8" y1="-34" x2="17.2" y2="-34" stroke="#2a2422" stroke-width="0.4"/>
</g>
<g clip-path="url(#ccA)" transform="translate(-758.6,-110.9)">
<g transform="translate(758.6,110.9)">
<path d="M90,-20.5 H30 Q27,-20.5 27,-17.5 V17.5 Q27,20.5 30,20.5 H90" fill="#e8e8e8" stroke="#2a2422" stroke-width="0.9" stroke-linejoin="round"/>
<rect x="20.3" y="-12.1" width="50.7" height="24.2" fill="#e8e8e8" stroke="#2a2422" stroke-width="0.95"/>
<rect x="31.4" y="-6.3" width="39.6" height="12.6" fill="none" stroke="#2a2422" stroke-width="0.8"/>
<rect x="33.7" y="-4.9" width="34.3" height="9.8" fill="none" stroke="#2a2422" stroke-width="0.6"/>
<line x1="68.8" y1="-12.1" x2="68.8" y2="12.1" stroke="#2a2422" stroke-width="0.6"/>
<line x1="31.4" y1="-12.1" x2="31.4" y2="12.1" stroke="#2a2422" stroke-width="0.7"/>
<circle cx="40.6" cy="0" r="3.4" fill="#e8e8e8" stroke="#2a2422" stroke-width="0.85"/>
<circle cx="40.6" cy="0" r="2.2" fill="none" stroke="#2a2422" stroke-width="0.4"/>
<circle cx="59.4" cy="0" r="3.4" fill="#e8e8e8" stroke="#2a2422" stroke-width="0.85"/>
<circle cx="59.4" cy="0" r="2.2" fill="none" stroke="#2a2422" stroke-width="0.4"/>
<line x1="29.9" y1="-17.2" x2="32.1" y2="-17.2" stroke="#2a2422" stroke-width="0.45"/>
<line x1="31" y1="-18.3" x2="31" y2="-16.1" stroke="#2a2422" stroke-width="0.45"/>
<line x1="29.9" y1="17.2" x2="32.1" y2="17.2" stroke="#2a2422" stroke-width="0.45"/>
<line x1="31" y1="16.1" x2="31" y2="18.3" stroke="#2a2422" stroke-width="0.45"/>
<line x1="47.9" y1="-17.2" x2="50.1" y2="-17.2" stroke="#2a2422" stroke-width="0.45"/>
<line x1="49" y1="-18.3" x2="49" y2="-16.1" stroke="#2a2422" stroke-width="0.45"/>
<line x1="47.9" y1="17.2" x2="50.1" y2="17.2" stroke="#2a2422" stroke-width="0.45"/>
<line x1="49" y1="16.1" x2="49" y2="18.3" stroke="#2a2422" stroke-width="0.45"/>
<line x1="64.4" y1="-17.2" x2="66.6" y2="-17.2" stroke="#2a2422" stroke-width="0.45"/>
<line x1="65.5" y1="-18.3" x2="65.5" y2="-16.1" stroke="#2a2422" stroke-width="0.45"/>
<line x1="64.4" y1="17.2" x2="66.6" y2="17.2" stroke="#2a2422" stroke-width="0.45"/>
<line x1="65.5" y1="16.1" x2="65.5" y2="18.3" stroke="#2a2422" stroke-width="0.45"/>
<line x1="24.8" y1="-8.6" x2="27.2" y2="-8.6" stroke="#2a2422" stroke-width="0.45"/>
<line x1="26" y1="-9.8" x2="26" y2="-7.4" stroke="#2a2422" stroke-width="0.45"/>
<line x1="24.8" y1="8.6" x2="27.2" y2="8.6" stroke="#2a2422" stroke-width="0.45"/>
<line x1="26" y1="7.4" x2="26" y2="9.8" stroke="#2a2422" stroke-width="0.45"/>
</g></g>
<line x1="0" y1="-13.4" x2="15" y2="-13.4" stroke="#2a2422" stroke-width="0.6"/>
<line x1="0" y1="13.4" x2="15" y2="13.4" stroke="#2a2422" stroke-width="0.6"/>
<line x1="-8" y1="0" x2="90" y2="0" stroke="#5a4d48" stroke-width="0.4" stroke-dasharray="8 1.5 1.5 1.5"/>
</g></g>
<line x1="758.5" y1="35.4" x2="758.5" y2="186.4" stroke="#2a2422" stroke-width="0.85"/>
<line x1="752.6" y1="50.6" x2="758.6" y2="50.6" stroke="#5a4d48" stroke-width="0.45"/>
<line x1="752.6" y1="65.7" x2="758.6" y2="65.7" stroke="#5a4d48" stroke-width="0.45"/>
<line x1="752.6" y1="156.1" x2="758.6" y2="156.1" stroke="#5a4d48" stroke-width="0.45"/>
<line x1="752.6" y1="171.2" x2="758.6" y2="171.2" stroke="#5a4d48" stroke-width="0.45"/>
<line x1="750.6" y1="110.9" x2="758.6" y2="110.9" stroke="#5a4d48" stroke-width="0.45"/>
<text x="801.9" y="30" font-size="11.92" text-anchor="start" textLength="51.6" lengthAdjust="spacingAndGlyphs" style="stroke-width:0.7px">VIT-212R</text>
<path d="M855,32 H796.5 L788.4,53" fill="none" stroke="#5a4d48" stroke-width="0.8" stroke-linejoin="round"/>
<circle cx="788" cy="54" r="1.9" fill="#2a2422" stroke="#2a2422" stroke-width="0"/>
<text x="801.2" y="192" font-size="11.92" text-anchor="start" textLength="51.8" lengthAdjust="spacingAndGlyphs" style="stroke-width:0.7px">VIT-218R</text>
<path d="M855,194.6 H796 L785.2,172.4" fill="none" stroke="#5a4d48" stroke-width="0.8" stroke-linejoin="round"/>
<circle cx="784.7" cy="171.3" r="1.9" fill="#2a2422" stroke="#2a2422" stroke-width="0"/>
<line x1="801.03" y1="68.47" x2="822.95" y2="46.55" stroke="#5a4d48" stroke-width="0.5"/>
<line x1="832" y1="110.5" x2="851" y2="110.5" stroke="#5a4d48" stroke-width="0.85"/>
<path d="M819.41,50.09 A86,86 0 0 1 844.6,110.9" fill="none" stroke="#5a4d48" stroke-width="0.55" stroke-linejoin="round"/>
<polygon points="819.41,50.09 815.96,54.68 814.29,52.69" fill="#2a2422"/>
<polygon points="844.6,110.9 842.91,105.4 845.51,105.22" fill="#2a2422"/>
<text x="842" y="77" font-size="11.92" text-anchor="middle" transform="rotate(66 842 77)">45&#176;</text>
<g clip-path="url(#cpB)">
<g transform="translate(758.6,295.4)">
<circle cx="0" cy="0" r="75.2" fill="#e8e8e8" stroke="#2a2422" stroke-width="1.5"/>
<circle cx="0" cy="0" r="27.5" fill="none" stroke="#2a2422" stroke-width="0.55"/>
<circle cx="0" cy="0" r="22" fill="none" stroke="#2a2422" stroke-width="0.6"/>
<circle cx="0" cy="0" r="20.3" fill="#e8e8e8" stroke="#2a2422" stroke-width="0.9"/>
</g></g>
<circle cx="786.35" cy="247.34" r="6.4" fill="#e8e8e8" stroke="#2a2422" stroke-width="0.85"/>
<circle cx="786.35" cy="247.34" r="4.8" fill="none" stroke="#2a2422" stroke-width="0.4"/>
<circle cx="786.35" cy="247.34" r="2.6" fill="none" stroke="#2a2422" stroke-width="0.6"/>
<line x1="781.85" y1="255.13" x2="790.85" y2="239.54" stroke="#5a4d48" stroke-width="0.35"/>
<circle cx="806.66" cy="267.65" r="6.4" fill="#e8e8e8" stroke="#2a2422" stroke-width="0.85"/>
<circle cx="806.66" cy="267.65" r="4.8" fill="none" stroke="#2a2422" stroke-width="0.4"/>
<circle cx="806.66" cy="267.65" r="2.6" fill="none" stroke="#2a2422" stroke-width="0.6"/>
<line x1="798.87" y1="272.15" x2="814.46" y2="263.15" stroke="#5a4d48" stroke-width="0.35"/>
<circle cx="806.66" cy="323.15" r="6.4" fill="#e8e8e8" stroke="#2a2422" stroke-width="0.85"/>
<circle cx="806.66" cy="323.15" r="4.8" fill="none" stroke="#2a2422" stroke-width="0.4"/>
<circle cx="806.66" cy="323.15" r="2.6" fill="none" stroke="#2a2422" stroke-width="0.6"/>
<line x1="798.87" y1="318.65" x2="814.46" y2="327.65" stroke="#5a4d48" stroke-width="0.35"/>
<circle cx="786.35" cy="343.46" r="6.4" fill="#e8e8e8" stroke="#2a2422" stroke-width="0.85"/>
<circle cx="786.35" cy="343.46" r="4.8" fill="none" stroke="#2a2422" stroke-width="0.4"/>
<circle cx="786.35" cy="343.46" r="2.6" fill="none" stroke="#2a2422" stroke-width="0.6"/>
<line x1="781.85" y1="335.67" x2="790.85" y2="351.26" stroke="#5a4d48" stroke-width="0.35"/>
<circle cx="782.85" cy="271.15" r="3.2" fill="#e8e8e8" stroke="#2a2422" stroke-width="0.7"/>
<circle cx="782.85" cy="271.15" r="1.6" fill="none" stroke="#2a2422" stroke-width="0.5"/>
<circle cx="783.07" cy="319.87" r="3.2" fill="#e8e8e8" stroke="#2a2422" stroke-width="0.7"/>
<circle cx="783.07" cy="319.87" r="1.6" fill="none" stroke="#2a2422" stroke-width="0.5"/>
<g transform="translate(758.6,295.4) rotate(45)">
<path d="M-5.2,-74.9 V-65.2 A5.2,5.2 0 0 0 5.2,-65.2 V-74.9" fill="#ececec" stroke="#2a2422" stroke-width="0.9" stroke-linejoin="round"/>
</g>
<g transform="translate(758.6,295.4) rotate(135)">
<path d="M-5.2,-74.9 V-66.2 A5.2,5.2 0 0 0 5.2,-66.2 V-74.9" fill="#ececec" stroke="#2a2422" stroke-width="0.9" stroke-linejoin="round"/>
</g>
<g clip-path="url(#cpB)">
<g transform="translate(758.6,295.4)">
<g transform="scale(1,-1)">
<path d="M18,-73 V-25 Q18,-20.5 13.5,-20.5 H11 M-21,-71.9 V-25" fill="#e8e8e8" stroke="#2a2422" stroke-width="0.8" stroke-linejoin="round"/>
<path d="M-11,-75.4 H11 V-16 L7,-10 H-7 Z" fill="#e8e8e8" stroke="#2a2422" stroke-width="1" stroke-linejoin="round"/>
<circle cx="0" cy="-60.3" r="6.4" fill="#e8e8e8" stroke="#2a2422" stroke-width="0.8"/>
<circle cx="0" cy="-60.3" r="3.6" fill="none" stroke="#2a2422" stroke-width="0.6"/>
<line x1="-7" y1="-60.3" x2="10" y2="-60.3" stroke="#5a4d48" stroke-width="0.35"/>
<circle cx="0" cy="-45.2" r="6.4" fill="#e8e8e8" stroke="#2a2422" stroke-width="0.8"/>
<circle cx="0" cy="-45.2" r="3.6" fill="none" stroke="#2a2422" stroke-width="0.6"/>
<line x1="-7" y1="-45.2" x2="10" y2="-45.2" stroke="#5a4d48" stroke-width="0.35"/>
<line x1="14.5" y1="-67.2" x2="14.5" y2="-64.8" stroke="#2a2422" stroke-width="0.4"/>
<line x1="13.3" y1="-66" x2="15.7" y2="-66" stroke="#2a2422" stroke-width="0.4"/>
<line x1="14.5" y1="-51.2" x2="14.5" y2="-48.8" stroke="#2a2422" stroke-width="0.4"/>
<line x1="13.3" y1="-50" x2="15.7" y2="-50" stroke="#2a2422" stroke-width="0.4"/>
<line x1="14.5" y1="-35.2" x2="14.5" y2="-32.8" stroke="#2a2422" stroke-width="0.4"/>
<line x1="13.3" y1="-34" x2="15.7" y2="-34" stroke="#2a2422" stroke-width="0.4"/>
</g>
<g transform="scale(1,1)">
<path d="M18,-73 V-25 Q18,-20.5 13.5,-20.5 H11 M-21,-71.9 V-25" fill="#e8e8e8" stroke="#2a2422" stroke-width="0.8" stroke-linejoin="round"/>
<path d="M-11,-75.4 H11 V-16 L7,-10 H-7 Z" fill="#e8e8e8" stroke="#2a2422" stroke-width="1" stroke-linejoin="round"/>
<circle cx="0" cy="-60.3" r="6.4" fill="#e8e8e8" stroke="#2a2422" stroke-width="0.8"/>
<circle cx="0" cy="-60.3" r="3.6" fill="none" stroke="#2a2422" stroke-width="0.6"/>
<line x1="-7" y1="-60.3" x2="10" y2="-60.3" stroke="#5a4d48" stroke-width="0.35"/>
<circle cx="0" cy="-45.2" r="6.4" fill="#e8e8e8" stroke="#2a2422" stroke-width="0.8"/>
<circle cx="0" cy="-45.2" r="3.6" fill="none" stroke="#2a2422" stroke-width="0.6"/>
<line x1="-7" y1="-45.2" x2="10" y2="-45.2" stroke="#5a4d48" stroke-width="0.35"/>
<line x1="14.5" y1="-67.2" x2="14.5" y2="-64.8" stroke="#2a2422" stroke-width="0.4"/>
<line x1="13.3" y1="-66" x2="15.7" y2="-66" stroke="#2a2422" stroke-width="0.4"/>
<line x1="14.5" y1="-51.2" x2="14.5" y2="-48.8" stroke="#2a2422" stroke-width="0.4"/>
<line x1="13.3" y1="-50" x2="15.7" y2="-50" stroke="#2a2422" stroke-width="0.4"/>
<line x1="14.5" y1="-35.2" x2="14.5" y2="-32.8" stroke="#2a2422" stroke-width="0.4"/>
<line x1="13.3" y1="-34" x2="15.7" y2="-34" stroke="#2a2422" stroke-width="0.4"/>
</g>
<g clip-path="url(#ccB)" transform="translate(-758.6,-295.4)">
<g transform="translate(758.6,295.4)">
<path d="M90,-20.5 H30 Q27,-20.5 27,-17.5 V17.5 Q27,20.5 30,20.5 H90" fill="#e8e8e8" stroke="#2a2422" stroke-width="0.9" stroke-linejoin="round"/>
<rect x="20.3" y="-12.1" width="50.7" height="24.2" fill="#e8e8e8" stroke="#2a2422" stroke-width="0.95"/>
<rect x="31.4" y="-6.3" width="39.6" height="12.6" fill="none" stroke="#2a2422" stroke-width="0.8"/>
<rect x="33.7" y="-4.9" width="34.3" height="9.8" fill="none" stroke="#2a2422" stroke-width="0.6"/>
<line x1="68.8" y1="-12.1" x2="68.8" y2="12.1" stroke="#2a2422" stroke-width="0.6"/>
<line x1="31.4" y1="-12.1" x2="31.4" y2="12.1" stroke="#2a2422" stroke-width="0.7"/>
<circle cx="40.6" cy="0" r="3.4" fill="#e8e8e8" stroke="#2a2422" stroke-width="0.85"/>
<circle cx="40.6" cy="0" r="2.2" fill="none" stroke="#2a2422" stroke-width="0.4"/>
<circle cx="59.4" cy="0" r="3.4" fill="#e8e8e8" stroke="#2a2422" stroke-width="0.85"/>
<circle cx="59.4" cy="0" r="2.2" fill="none" stroke="#2a2422" stroke-width="0.4"/>
<line x1="29.9" y1="-17.2" x2="32.1" y2="-17.2" stroke="#2a2422" stroke-width="0.45"/>
<line x1="31" y1="-18.3" x2="31" y2="-16.1" stroke="#2a2422" stroke-width="0.45"/>
<line x1="29.9" y1="17.2" x2="32.1" y2="17.2" stroke="#2a2422" stroke-width="0.45"/>
<line x1="31" y1="16.1" x2="31" y2="18.3" stroke="#2a2422" stroke-width="0.45"/>
<line x1="47.9" y1="-17.2" x2="50.1" y2="-17.2" stroke="#2a2422" stroke-width="0.45"/>
<line x1="49" y1="-18.3" x2="49" y2="-16.1" stroke="#2a2422" stroke-width="0.45"/>
<line x1="47.9" y1="17.2" x2="50.1" y2="17.2" stroke="#2a2422" stroke-width="0.45"/>
<line x1="49" y1="16.1" x2="49" y2="18.3" stroke="#2a2422" stroke-width="0.45"/>
<line x1="64.4" y1="-17.2" x2="66.6" y2="-17.2" stroke="#2a2422" stroke-width="0.45"/>
<line x1="65.5" y1="-18.3" x2="65.5" y2="-16.1" stroke="#2a2422" stroke-width="0.45"/>
<line x1="64.4" y1="17.2" x2="66.6" y2="17.2" stroke="#2a2422" stroke-width="0.45"/>
<line x1="65.5" y1="16.1" x2="65.5" y2="18.3" stroke="#2a2422" stroke-width="0.45"/>
<line x1="24.8" y1="-8.6" x2="27.2" y2="-8.6" stroke="#2a2422" stroke-width="0.45"/>
<line x1="26" y1="-9.8" x2="26" y2="-7.4" stroke="#2a2422" stroke-width="0.45"/>
<line x1="24.8" y1="8.6" x2="27.2" y2="8.6" stroke="#2a2422" stroke-width="0.45"/>
<line x1="26" y1="7.4" x2="26" y2="9.8" stroke="#2a2422" stroke-width="0.45"/>
</g></g>
<line x1="0" y1="-13.4" x2="15" y2="-13.4" stroke="#2a2422" stroke-width="0.6"/>
<line x1="0" y1="13.4" x2="15" y2="13.4" stroke="#2a2422" stroke-width="0.6"/>
<line x1="-8" y1="0" x2="90" y2="0" stroke="#5a4d48" stroke-width="0.4" stroke-dasharray="8 1.5 1.5 1.5"/>
</g></g>
<line x1="758.5" y1="219.7" x2="758.5" y2="371.1" stroke="#2a2422" stroke-width="0.85"/>
<line x1="752.6" y1="235.1" x2="758.6" y2="235.1" stroke="#5a4d48" stroke-width="0.45"/>
<line x1="752.6" y1="250.2" x2="758.6" y2="250.2" stroke="#5a4d48" stroke-width="0.45"/>
<line x1="752.6" y1="340.6" x2="758.6" y2="340.6" stroke="#5a4d48" stroke-width="0.45"/>
<line x1="752.6" y1="355.7" x2="758.6" y2="355.7" stroke="#5a4d48" stroke-width="0.45"/>
<line x1="750.6" y1="295.4" x2="758.6" y2="295.4" stroke="#5a4d48" stroke-width="0.45"/>
<text x="795.8" y="374.2" font-size="11.92" text-anchor="start" textLength="60.5" lengthAdjust="spacingAndGlyphs" style="stroke-width:0.7px">VIT-221R~</text>
<text x="799.6" y="387.3" font-size="11.92" text-anchor="start" textLength="52.4" lengthAdjust="spacingAndGlyphs" style="stroke-width:0.7px">VIT-232R</text>
<path d="M855.5,389.8 H792 L782,361" fill="none" stroke="#5a4d48" stroke-width="0.8" stroke-linejoin="round"/>
<circle cx="781.6" cy="360" r="1.9" fill="#2a2422" stroke="#2a2422" stroke-width="0"/>
<line x1="758.5" y1="219.4" x2="758.5" y2="208.4" stroke="#5a4d48" stroke-width="0.85"/>
<line x1="789.6" y1="241.71" x2="802.1" y2="220.06" stroke="#5a4d48" stroke-width="0.5"/>
<line x1="806.68" y1="247.32" x2="820.12" y2="233.88" stroke="#5a4d48" stroke-width="0.5"/>
<line x1="812.29" y1="264.4" x2="833.94" y2="251.9" stroke="#5a4d48" stroke-width="0.5"/>
<path d="M758.6,212.9 A82.5,82.5 0 0 1 830.05,254.15" fill="none" stroke="#5a4d48" stroke-width="0.55" stroke-linejoin="round"/>
<polygon points="758.6,212.9 764.2,211.6 764.2,214.2" fill="#2a2422"/>
<polygon points="799.85,223.95 794.25,222.67 795.39,220.33" fill="#2a2422"/>
<polygon points="816.94,237.06 820.32,239.43 818.81,240.74" fill="#2a2422"/>
<polygon points="816.94,237.06 813.26,235.19 814.57,233.68" fill="#2a2422"/>
<polygon points="799.85,223.95 803.73,225.36 802.61,227.02" fill="#2a2422"/>
<polygon points="830.05,254.15 826.98,251.39 828.64,250.27" fill="#2a2422"/>
<text x="781" y="211.5" font-size="11.6" text-anchor="middle" transform="rotate(10 781 211.5)">30&#176;</text>
<text x="812.6" y="227.6" font-size="11.92" text-anchor="middle" transform="rotate(38 812.6 227.6)">15&#176;</text>
<text x="828.5" y="244.5" font-size="11.92" text-anchor="middle" transform="rotate(52 828.5 244.5)">15&#176;</text>
</svg>
</body></html>
